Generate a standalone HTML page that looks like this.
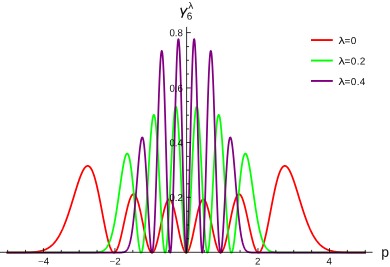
<!DOCTYPE html>
<html><head><meta charset="utf-8"><title>plot</title>
<style>html,body{margin:0;padding:0;background:#fff;}body{width:390px;height:267px;overflow:hidden;position:relative;font-family:"Liberation Sans",sans-serif;}</style></head>
<body>
<svg width="390" height="267" viewBox="0 0 390 267" style="position:absolute;left:0;top:0">
<path d="M7.48,252.62 L7.70,252.62 L7.93,252.62 L8.15,252.62 L8.37,252.62 L8.60,252.62 L8.82,252.62 L9.04,252.62 L9.27,252.62 L9.49,252.62 L9.72,252.62 L9.94,252.62 L10.16,252.61 L10.39,252.61 L10.61,252.61 L10.83,252.61 L11.06,252.61 L11.28,252.61 L11.50,252.61 L11.73,252.61 L11.95,252.61 L12.17,252.61 L12.40,252.61 L12.62,252.61 L12.84,252.61 L13.07,252.61 L13.29,252.61 L13.51,252.61 L13.74,252.61 L13.96,252.61 L14.19,252.61 L14.41,252.61 L14.63,252.61 L14.86,252.61 L15.08,252.60 L15.30,252.60 L15.53,252.60 L15.75,252.60 L15.97,252.60 L16.20,252.60 L16.42,252.60 L16.64,252.60 L16.87,252.60 L17.09,252.60 L17.31,252.60 L17.54,252.59 L17.76,252.59 L17.98,252.59 L18.21,252.59 L18.43,252.59 L18.66,252.59 L18.88,252.59 L19.10,252.59 L19.33,252.58 L19.55,252.58 L19.77,252.58 L20.00,252.58 L20.22,252.58 L20.44,252.57 L20.67,252.57 L20.89,252.57 L21.11,252.57 L21.34,252.57 L21.56,252.56 L21.78,252.56 L22.01,252.56 L22.23,252.56 L22.45,252.55 L22.68,252.55 L22.90,252.55 L23.12,252.54 L23.35,252.54 L23.57,252.54 L23.80,252.53 L24.02,252.53 L24.24,252.52 L24.47,252.52 L24.69,252.52 L24.91,252.51 L25.14,252.51 L25.36,252.50 L25.58,252.50 L25.81,252.49 L26.03,252.49 L26.25,252.48 L26.48,252.48 L26.70,252.47 L26.92,252.46 L27.15,252.46 L27.37,252.45 L27.59,252.44 L27.82,252.43 L28.04,252.43 L28.27,252.42 L28.49,252.41 L28.71,252.40 L28.94,252.39 L29.16,252.38 L29.38,252.37 L29.61,252.36 L29.83,252.35 L30.05,252.34 L30.28,252.33 L30.50,252.32 L30.72,252.31 L30.95,252.30 L31.17,252.28 L31.39,252.27 L31.62,252.26 L31.84,252.24 L32.06,252.23 L32.29,252.21 L32.51,252.20 L32.74,252.18 L32.96,252.16 L33.18,252.15 L33.41,252.13 L33.63,252.11 L33.85,252.09 L34.08,252.07 L34.30,252.05 L34.52,252.03 L34.75,252.00 L34.97,251.98 L35.19,251.96 L35.42,251.93 L35.64,251.90 L35.86,251.88 L36.09,251.85 L36.31,251.82 L36.53,251.79 L36.76,251.76 L36.98,251.73 L37.21,251.70 L37.43,251.67 L37.65,251.63 L37.88,251.60 L38.10,251.56 L38.32,251.52 L38.55,251.48 L38.77,251.44 L38.99,251.40 L39.22,251.36 L39.44,251.31 L39.66,251.27 L39.89,251.22 L40.11,251.17 L40.33,251.12 L40.56,251.07 L40.78,251.02 L41.00,250.96 L41.23,250.90 L41.45,250.84 L41.68,250.78 L41.90,250.72 L42.12,250.66 L42.35,250.59 L42.57,250.53 L42.79,250.46 L43.02,250.38 L43.24,250.31 L43.46,250.23 L43.69,250.16 L43.91,250.08 L44.13,249.99 L44.36,249.91 L44.58,249.82 L44.80,249.73 L45.03,249.64 L45.25,249.54 L45.48,249.45 L45.70,249.35 L45.92,249.24 L46.15,249.14 L46.37,249.03 L46.59,248.92 L46.82,248.80 L47.04,248.68 L47.26,248.56 L47.49,248.44 L47.71,248.31 L47.93,248.18 L48.16,248.05 L48.38,247.91 L48.60,247.77 L48.83,247.62 L49.05,247.48 L49.27,247.32 L49.50,247.17 L49.72,247.01 L49.95,246.84 L50.17,246.68 L50.39,246.51 L50.62,246.33 L50.84,246.15 L51.06,245.97 L51.29,245.78 L51.51,245.58 L51.73,245.39 L51.96,245.18 L52.18,244.98 L52.40,244.77 L52.63,244.55 L52.85,244.33 L53.07,244.10 L53.30,243.87 L53.52,243.63 L53.74,243.39 L53.97,243.15 L54.19,242.89 L54.42,242.64 L54.64,242.37 L54.86,242.11 L55.09,241.83 L55.31,241.55 L55.53,241.27 L55.76,240.98 L55.98,240.68 L56.20,240.38 L56.43,240.07 L56.65,239.75 L56.87,239.43 L57.10,239.10 L57.32,238.77 L57.54,238.43 L57.77,238.08 L57.99,237.73 L58.21,237.37 L58.44,237.01 L58.66,236.64 L58.89,236.26 L59.11,235.87 L59.33,235.48 L59.56,235.08 L59.78,234.67 L60.00,234.26 L60.23,233.84 L60.45,233.42 L60.67,232.98 L60.90,232.54 L61.12,232.10 L61.34,231.64 L61.57,231.18 L61.79,230.71 L62.01,230.24 L62.24,229.76 L62.46,229.27 L62.68,228.77 L62.91,228.27 L63.13,227.76 L63.36,227.24 L63.58,226.72 L63.80,226.19 L64.03,225.65 L64.25,225.10 L64.47,224.55 L64.70,223.99 L64.92,223.43 L65.14,222.86 L65.37,222.28 L65.59,221.69 L65.81,221.10 L66.04,220.50 L66.26,219.90 L66.48,219.29 L66.71,218.67 L66.93,218.05 L67.15,217.42 L67.38,216.78 L67.60,216.14 L67.83,215.49 L68.05,214.84 L68.27,214.18 L68.50,213.52 L68.72,212.85 L68.94,212.18 L69.17,211.50 L69.39,210.82 L69.61,210.13 L69.84,209.44 L70.06,208.74 L70.28,208.04 L70.51,207.33 L70.73,206.63 L70.95,205.91 L71.18,205.20 L71.40,204.48 L71.62,203.76 L71.85,203.04 L72.07,202.31 L72.30,201.59 L72.52,200.86 L72.74,200.12 L72.97,199.39 L73.19,198.66 L73.41,197.93 L73.64,197.19 L73.86,196.46 L74.08,195.72 L74.31,194.99 L74.53,194.25 L74.75,193.52 L74.98,192.79 L75.20,192.06 L75.42,191.33 L75.65,190.61 L75.87,189.89 L76.09,189.17 L76.32,188.45 L76.54,187.74 L76.77,187.03 L76.99,186.33 L77.21,185.63 L77.44,184.94 L77.66,184.25 L77.88,183.57 L78.11,182.90 L78.33,182.23 L78.55,181.57 L78.78,180.92 L79.00,180.28 L79.22,179.64 L79.45,179.01 L79.67,178.40 L79.89,177.79 L80.12,177.19 L80.34,176.60 L80.56,176.03 L80.79,175.46 L81.01,174.91 L81.24,174.37 L81.46,173.84 L81.68,173.33 L81.91,172.83 L82.13,172.34 L82.35,171.87 L82.58,171.41 L82.80,170.97 L83.02,170.54 L83.25,170.13 L83.47,169.74 L83.69,169.36 L83.92,169.00 L84.14,168.66 L84.36,168.34 L84.59,168.03 L84.81,167.74 L85.03,167.48 L85.26,167.23 L85.48,167.00 L85.71,166.79 L85.93,166.60 L86.15,166.44 L86.38,166.29 L86.60,166.17 L86.82,166.06 L87.05,165.98 L87.27,165.93 L87.49,165.89 L87.72,165.88 L87.94,165.89 L88.16,165.92 L88.39,165.98 L88.61,166.06 L88.83,166.17 L89.06,166.30 L89.28,166.45 L89.50,166.63 L89.73,166.83 L89.95,167.06 L90.18,167.31 L90.40,167.59 L90.62,167.89 L90.85,168.22 L91.07,168.57 L91.29,168.94 L91.52,169.34 L91.74,169.77 L91.96,170.22 L92.19,170.70 L92.41,171.20 L92.63,171.72 L92.86,172.27 L93.08,172.85 L93.30,173.44 L93.53,174.07 L93.75,174.71 L93.97,175.38 L94.20,176.07 L94.42,176.79 L94.65,177.52 L94.87,178.28 L95.09,179.07 L95.32,179.87 L95.54,180.69 L95.76,181.54 L95.99,182.40 L96.21,183.29 L96.43,184.20 L96.66,185.12 L96.88,186.06 L97.10,187.02 L97.33,188.00 L97.55,188.99 L97.77,190.01 L98.00,191.03 L98.22,192.07 L98.44,193.13 L98.67,194.20 L98.89,195.28 L99.12,196.37 L99.34,197.48 L99.56,198.60 L99.79,199.72 L100.01,200.86 L100.23,202.00 L100.46,203.15 L100.68,204.31 L100.90,205.47 L101.13,206.64 L101.35,207.82 L101.57,208.99 L101.80,210.17 L102.02,211.35 L102.24,212.54 L102.47,213.72 L102.69,214.90 L102.91,216.07 L103.14,217.25 L103.36,218.42 L103.59,219.59 L103.81,220.75 L104.03,221.90 L104.26,223.04 L104.48,224.18 L104.70,225.31 L104.93,226.42 L105.15,227.53 L105.37,228.62 L105.60,229.70 L105.82,230.76 L106.04,231.81 L106.27,232.84 L106.49,233.86 L106.71,234.86 L106.94,235.83 L107.16,236.79 L107.38,237.73 L107.61,238.64 L107.83,239.54 L108.06,240.41 L108.28,241.25 L108.50,242.07 L108.73,242.87 L108.95,243.63 L109.17,244.38 L109.40,245.09 L109.62,245.77 L109.84,246.43 L110.07,247.05 L110.29,247.65 L110.51,248.21 L110.74,248.74 L110.96,249.24 L111.18,249.71 L111.41,250.14 L111.63,250.54 L111.85,250.90 L112.08,251.24 L112.30,251.53 L112.53,251.79 L112.75,252.02 L112.97,252.21 L113.20,252.36 L113.42,252.48 L113.64,252.56 L113.87,252.61 L114.09,252.62 L114.31,252.59 L114.54,252.53 L114.76,252.43 L114.98,252.30 L115.21,252.12 L115.43,251.92 L115.65,251.68 L115.88,251.40 L116.10,251.09 L116.32,250.74 L116.55,250.36 L116.77,249.94 L117.00,249.50 L117.22,249.02 L117.44,248.50 L117.67,247.96 L117.89,247.38 L118.11,246.78 L118.34,246.14 L118.56,245.48 L118.78,244.79 L119.01,244.07 L119.23,243.32 L119.45,242.55 L119.68,241.75 L119.90,240.93 L120.12,240.09 L120.35,239.23 L120.57,238.34 L120.79,237.44 L121.02,236.52 L121.24,235.58 L121.47,234.62 L121.69,233.65 L121.91,232.66 L122.14,231.67 L122.36,230.66 L122.58,229.64 L122.81,228.61 L123.03,227.58 L123.25,226.54 L123.48,225.49 L123.70,224.44 L123.92,223.39 L124.15,222.34 L124.37,221.29 L124.59,220.24 L124.82,219.19 L125.04,218.15 L125.26,217.12 L125.49,216.09 L125.71,215.07 L125.94,214.06 L126.16,213.06 L126.38,212.08 L126.61,211.11 L126.83,210.15 L127.05,209.22 L127.28,208.30 L127.50,207.40 L127.72,206.51 L127.95,205.66 L128.17,204.82 L128.39,204.01 L128.62,203.22 L128.84,202.46 L129.06,201.73 L129.29,201.03 L129.51,200.35 L129.73,199.71 L129.96,199.09 L130.18,198.51 L130.41,197.97 L130.63,197.45 L130.85,196.97 L131.08,196.53 L131.30,196.12 L131.52,195.75 L131.75,195.42 L131.97,195.13 L132.19,194.87 L132.42,194.65 L132.64,194.47 L132.86,194.33 L133.09,194.23 L133.31,194.17 L133.53,194.15 L133.76,194.17 L133.98,194.24 L134.20,194.34 L134.43,194.48 L134.65,194.66 L134.88,194.88 L135.10,195.15 L135.32,195.45 L135.55,195.79 L135.77,196.17 L135.99,196.59 L136.22,197.04 L136.44,197.53 L136.66,198.06 L136.89,198.63 L137.11,199.23 L137.33,199.86 L137.56,200.53 L137.78,201.23 L138.00,201.97 L138.23,202.73 L138.45,203.52 L138.67,204.34 L138.90,205.19 L139.12,206.07 L139.34,206.97 L139.57,207.90 L139.79,208.85 L140.02,209.81 L140.24,210.80 L140.46,211.81 L140.69,212.84 L140.91,213.88 L141.13,214.93 L141.36,216.00 L141.58,217.08 L141.80,218.17 L142.03,219.27 L142.25,220.37 L142.47,221.48 L142.70,222.59 L142.92,223.70 L143.14,224.82 L143.37,225.93 L143.59,227.04 L143.81,228.14 L144.04,229.24 L144.26,230.33 L144.49,231.41 L144.71,232.48 L144.93,233.53 L145.16,234.57 L145.38,235.60 L145.60,236.61 L145.83,237.60 L146.05,238.57 L146.27,239.51 L146.50,240.44 L146.72,241.33 L146.94,242.21 L147.17,243.05 L147.39,243.87 L147.61,244.65 L147.84,245.41 L148.06,246.13 L148.28,246.82 L148.51,247.48 L148.73,248.10 L148.96,248.68 L149.18,249.22 L149.40,249.73 L149.63,250.20 L149.85,250.63 L150.07,251.02 L150.30,251.37 L150.52,251.67 L150.74,251.93 L150.97,252.16 L151.19,252.33 L151.41,252.47 L151.64,252.56 L151.86,252.61 L152.08,252.62 L152.31,252.58 L152.53,252.50 L152.75,252.37 L152.98,252.20 L153.20,251.99 L153.43,251.74 L153.65,251.44 L153.87,251.11 L154.10,250.73 L154.32,250.31 L154.54,249.85 L154.77,249.35 L154.99,248.82 L155.21,248.24 L155.44,247.63 L155.66,246.99 L155.88,246.31 L156.11,245.59 L156.33,244.85 L156.55,244.07 L156.78,243.26 L157.00,242.43 L157.22,241.56 L157.45,240.68 L157.67,239.76 L157.90,238.83 L158.12,237.87 L158.34,236.89 L158.57,235.90 L158.79,234.89 L159.01,233.86 L159.24,232.82 L159.46,231.77 L159.68,230.71 L159.91,229.64 L160.13,228.56 L160.35,227.48 L160.58,226.40 L160.80,225.32 L161.02,224.24 L161.25,223.16 L161.47,222.08 L161.69,221.01 L161.92,219.95 L162.14,218.90 L162.37,217.86 L162.59,216.83 L162.81,215.82 L163.04,214.83 L163.26,213.85 L163.48,212.89 L163.71,211.96 L163.93,211.05 L164.15,210.16 L164.38,209.30 L164.60,208.46 L164.82,207.66 L165.05,206.89 L165.27,206.14 L165.49,205.44 L165.72,204.76 L165.94,204.12 L166.16,203.52 L166.39,202.95 L166.61,202.43 L166.84,201.94 L167.06,201.49 L167.28,201.08 L167.51,200.72 L167.73,200.40 L167.95,200.12 L168.18,199.88 L168.40,199.69 L168.62,199.54 L168.85,199.44 L169.07,199.38 L169.29,199.37 L169.52,199.40 L169.74,199.47 L169.96,199.59 L170.19,199.76 L170.41,199.97 L170.63,200.22 L170.86,200.51 L171.08,200.85 L171.31,201.24 L171.53,201.66 L171.75,202.13 L171.98,202.63 L172.20,203.18 L172.42,203.76 L172.65,204.38 L172.87,205.04 L173.09,205.73 L173.32,206.46 L173.54,207.22 L173.76,208.02 L173.99,208.84 L174.21,209.69 L174.43,210.57 L174.66,211.48 L174.88,212.41 L175.10,213.37 L175.33,214.34 L175.55,215.34 L175.78,216.35 L176.00,217.39 L176.22,218.43 L176.45,219.49 L176.67,220.56 L176.89,221.64 L177.12,222.73 L177.34,223.82 L177.56,224.92 L177.79,226.01 L178.01,227.11 L178.23,228.21 L178.46,229.30 L178.68,230.39 L178.90,231.47 L179.13,232.54 L179.35,233.60 L179.57,234.65 L179.80,235.68 L180.02,236.69 L180.25,237.69 L180.47,238.67 L180.69,239.63 L180.92,240.56 L181.14,241.47 L181.36,242.35 L181.59,243.20 L181.81,244.03 L182.03,244.82 L182.26,245.58 L182.48,246.31 L182.70,247.01 L182.93,247.66 L183.15,248.28 L183.37,248.87 L183.60,249.41 L183.82,249.91 L184.04,250.38 L184.27,250.80 L184.49,251.18 L184.72,251.51 L184.94,251.81 L185.16,252.05 L185.39,252.26 L185.61,252.42 L185.83,252.53 L186.06,252.60 L186.28,252.62 L186.50,252.60 L186.73,252.53 L186.95,252.42 L187.17,252.26 L187.40,252.05 L187.62,251.81 L187.84,251.51 L188.07,251.18 L188.29,250.80 L188.52,250.38 L188.74,249.91 L188.96,249.41 L189.19,248.87 L189.41,248.28 L189.63,247.66 L189.86,247.01 L190.08,246.31 L190.30,245.58 L190.53,244.82 L190.75,244.03 L190.97,243.20 L191.20,242.35 L191.42,241.47 L191.64,240.56 L191.87,239.63 L192.09,238.67 L192.31,237.69 L192.54,236.69 L192.76,235.68 L192.99,234.65 L193.21,233.60 L193.43,232.54 L193.66,231.47 L193.88,230.39 L194.10,229.30 L194.33,228.21 L194.55,227.11 L194.77,226.01 L195.00,224.92 L195.22,223.82 L195.44,222.73 L195.67,221.64 L195.89,220.56 L196.11,219.49 L196.34,218.43 L196.56,217.39 L196.78,216.35 L197.01,215.34 L197.23,214.34 L197.46,213.37 L197.68,212.41 L197.90,211.48 L198.13,210.57 L198.35,209.69 L198.57,208.84 L198.80,208.02 L199.02,207.22 L199.24,206.46 L199.47,205.73 L199.69,205.04 L199.91,204.38 L200.14,203.76 L200.36,203.18 L200.58,202.63 L200.81,202.13 L201.03,201.66 L201.25,201.24 L201.48,200.85 L201.70,200.51 L201.93,200.22 L202.15,199.97 L202.37,199.76 L202.60,199.59 L202.82,199.47 L203.04,199.40 L203.27,199.37 L203.49,199.38 L203.71,199.44 L203.94,199.54 L204.16,199.69 L204.38,199.88 L204.61,200.12 L204.83,200.40 L205.05,200.72 L205.28,201.08 L205.50,201.49 L205.72,201.94 L205.95,202.43 L206.17,202.95 L206.40,203.52 L206.62,204.12 L206.84,204.76 L207.07,205.44 L207.29,206.14 L207.51,206.89 L207.74,207.66 L207.96,208.46 L208.18,209.30 L208.41,210.16 L208.63,211.05 L208.85,211.96 L209.08,212.89 L209.30,213.85 L209.52,214.83 L209.75,215.82 L209.97,216.83 L210.19,217.86 L210.42,218.90 L210.64,219.95 L210.87,221.01 L211.09,222.08 L211.31,223.16 L211.54,224.24 L211.76,225.32 L211.98,226.40 L212.21,227.48 L212.43,228.56 L212.65,229.64 L212.88,230.71 L213.10,231.77 L213.32,232.82 L213.55,233.86 L213.77,234.89 L213.99,235.90 L214.22,236.89 L214.44,237.87 L214.66,238.83 L214.89,239.76 L215.11,240.68 L215.34,241.56 L215.56,242.43 L215.78,243.26 L216.01,244.07 L216.23,244.85 L216.45,245.59 L216.68,246.31 L216.90,246.99 L217.12,247.63 L217.35,248.24 L217.57,248.82 L217.79,249.35 L218.02,249.85 L218.24,250.31 L218.46,250.73 L218.69,251.11 L218.91,251.44 L219.13,251.74 L219.36,251.99 L219.58,252.20 L219.81,252.37 L220.03,252.50 L220.25,252.58 L220.48,252.62 L220.70,252.61 L220.92,252.56 L221.15,252.47 L221.37,252.33 L221.59,252.16 L221.82,251.93 L222.04,251.67 L222.26,251.37 L222.49,251.02 L222.71,250.63 L222.93,250.20 L223.16,249.73 L223.38,249.22 L223.60,248.68 L223.83,248.10 L224.05,247.48 L224.28,246.82 L224.50,246.13 L224.72,245.41 L224.95,244.65 L225.17,243.87 L225.39,243.05 L225.62,242.21 L225.84,241.33 L226.06,240.44 L226.29,239.51 L226.51,238.57 L226.73,237.60 L226.96,236.61 L227.18,235.60 L227.40,234.57 L227.63,233.53 L227.85,232.48 L228.07,231.41 L228.30,230.33 L228.52,229.24 L228.75,228.14 L228.97,227.04 L229.19,225.93 L229.42,224.82 L229.64,223.70 L229.86,222.59 L230.09,221.48 L230.31,220.37 L230.53,219.27 L230.76,218.17 L230.98,217.08 L231.20,216.00 L231.43,214.93 L231.65,213.88 L231.87,212.84 L232.10,211.81 L232.32,210.80 L232.54,209.81 L232.77,208.85 L232.99,207.90 L233.22,206.97 L233.44,206.07 L233.66,205.19 L233.89,204.34 L234.11,203.52 L234.33,202.73 L234.56,201.97 L234.78,201.23 L235.00,200.53 L235.23,199.86 L235.45,199.23 L235.67,198.63 L235.90,198.06 L236.12,197.53 L236.34,197.04 L236.57,196.59 L236.79,196.17 L237.01,195.79 L237.24,195.45 L237.46,195.15 L237.69,194.88 L237.91,194.66 L238.13,194.48 L238.36,194.34 L238.58,194.24 L238.80,194.17 L239.03,194.15 L239.25,194.17 L239.47,194.23 L239.70,194.33 L239.92,194.47 L240.14,194.65 L240.37,194.87 L240.59,195.13 L240.81,195.42 L241.04,195.75 L241.26,196.12 L241.48,196.53 L241.71,196.97 L241.93,197.45 L242.16,197.97 L242.38,198.51 L242.60,199.09 L242.83,199.71 L243.05,200.35 L243.27,201.03 L243.50,201.73 L243.72,202.46 L243.94,203.22 L244.17,204.01 L244.39,204.82 L244.61,205.66 L244.84,206.51 L245.06,207.40 L245.28,208.30 L245.51,209.22 L245.73,210.15 L245.95,211.11 L246.18,212.08 L246.40,213.06 L246.62,214.06 L246.85,215.07 L247.07,216.09 L247.30,217.12 L247.52,218.15 L247.74,219.19 L247.97,220.24 L248.19,221.29 L248.41,222.34 L248.64,223.39 L248.86,224.44 L249.08,225.49 L249.31,226.54 L249.53,227.58 L249.75,228.61 L249.98,229.64 L250.20,230.66 L250.42,231.67 L250.65,232.66 L250.87,233.65 L251.09,234.62 L251.32,235.58 L251.54,236.52 L251.77,237.44 L251.99,238.34 L252.21,239.23 L252.44,240.09 L252.66,240.93 L252.88,241.75 L253.11,242.55 L253.33,243.32 L253.55,244.07 L253.78,244.79 L254.00,245.48 L254.22,246.14 L254.45,246.78 L254.67,247.38 L254.89,247.96 L255.12,248.50 L255.34,249.02 L255.56,249.50 L255.79,249.94 L256.01,250.36 L256.24,250.74 L256.46,251.09 L256.68,251.40 L256.91,251.68 L257.13,251.92 L257.35,252.12 L257.58,252.30 L257.80,252.43 L258.02,252.53 L258.25,252.59 L258.47,252.62 L258.69,252.61 L258.92,252.56 L259.14,252.48 L259.36,252.36 L259.59,252.21 L259.81,252.02 L260.03,251.79 L260.26,251.53 L260.48,251.24 L260.71,250.90 L260.93,250.54 L261.15,250.14 L261.38,249.71 L261.60,249.24 L261.82,248.74 L262.05,248.21 L262.27,247.65 L262.49,247.05 L262.72,246.43 L262.94,245.77 L263.16,245.09 L263.39,244.38 L263.61,243.63 L263.83,242.87 L264.06,242.07 L264.28,241.25 L264.50,240.41 L264.73,239.54 L264.95,238.64 L265.18,237.73 L265.40,236.79 L265.62,235.83 L265.85,234.86 L266.07,233.86 L266.29,232.84 L266.52,231.81 L266.74,230.76 L266.96,229.70 L267.19,228.62 L267.41,227.53 L267.63,226.42 L267.86,225.31 L268.08,224.18 L268.30,223.04 L268.53,221.90 L268.75,220.75 L268.98,219.59 L269.20,218.42 L269.42,217.25 L269.65,216.07 L269.87,214.90 L270.09,213.72 L270.32,212.54 L270.54,211.35 L270.76,210.17 L270.99,208.99 L271.21,207.82 L271.43,206.64 L271.66,205.47 L271.88,204.31 L272.10,203.15 L272.33,202.00 L272.55,200.86 L272.77,199.72 L273.00,198.60 L273.22,197.48 L273.44,196.37 L273.67,195.28 L273.89,194.20 L274.12,193.13 L274.34,192.07 L274.56,191.03 L274.79,190.01 L275.01,188.99 L275.23,188.00 L275.46,187.02 L275.68,186.06 L275.90,185.12 L276.13,184.20 L276.35,183.29 L276.57,182.40 L276.80,181.54 L277.02,180.69 L277.24,179.87 L277.47,179.07 L277.69,178.28 L277.91,177.52 L278.14,176.79 L278.36,176.07 L278.59,175.38 L278.81,174.71 L279.03,174.07 L279.26,173.44 L279.48,172.85 L279.70,172.27 L279.93,171.72 L280.15,171.20 L280.37,170.70 L280.60,170.22 L280.82,169.77 L281.04,169.34 L281.27,168.94 L281.49,168.57 L281.71,168.22 L281.94,167.89 L282.16,167.59 L282.38,167.31 L282.61,167.06 L282.83,166.83 L283.06,166.63 L283.28,166.45 L283.50,166.30 L283.73,166.17 L283.95,166.06 L284.17,165.98 L284.40,165.92 L284.62,165.89 L284.84,165.88 L285.07,165.89 L285.29,165.93 L285.51,165.98 L285.74,166.06 L285.96,166.17 L286.18,166.29 L286.41,166.44 L286.63,166.60 L286.86,166.79 L287.08,167.00 L287.30,167.23 L287.53,167.48 L287.75,167.74 L287.97,168.03 L288.20,168.34 L288.42,168.66 L288.64,169.00 L288.87,169.36 L289.09,169.74 L289.31,170.13 L289.54,170.54 L289.76,170.97 L289.98,171.41 L290.21,171.87 L290.43,172.34 L290.65,172.83 L290.88,173.33 L291.10,173.84 L291.32,174.37 L291.55,174.91 L291.77,175.46 L292.00,176.03 L292.22,176.60 L292.44,177.19 L292.67,177.79 L292.89,178.40 L293.11,179.01 L293.34,179.64 L293.56,180.28 L293.78,180.92 L294.01,181.57 L294.23,182.23 L294.45,182.90 L294.68,183.57 L294.90,184.25 L295.12,184.94 L295.35,185.63 L295.57,186.33 L295.80,187.03 L296.02,187.74 L296.24,188.45 L296.47,189.17 L296.69,189.89 L296.91,190.61 L297.14,191.33 L297.36,192.06 L297.58,192.79 L297.81,193.52 L298.03,194.25 L298.25,194.99 L298.48,195.72 L298.70,196.46 L298.92,197.19 L299.15,197.93 L299.37,198.66 L299.59,199.39 L299.82,200.12 L300.04,200.86 L300.26,201.59 L300.49,202.31 L300.71,203.04 L300.94,203.76 L301.16,204.48 L301.38,205.20 L301.61,205.91 L301.83,206.63 L302.05,207.33 L302.28,208.04 L302.50,208.74 L302.72,209.44 L302.95,210.13 L303.17,210.82 L303.39,211.50 L303.62,212.18 L303.84,212.85 L304.06,213.52 L304.29,214.18 L304.51,214.84 L304.74,215.49 L304.96,216.14 L305.18,216.78 L305.41,217.42 L305.63,218.05 L305.85,218.67 L306.08,219.29 L306.30,219.90 L306.52,220.50 L306.75,221.10 L306.97,221.69 L307.19,222.28 L307.42,222.86 L307.64,223.43 L307.86,223.99 L308.09,224.55 L308.31,225.10 L308.53,225.65 L308.76,226.19 L308.98,226.72 L309.20,227.24 L309.43,227.76 L309.65,228.27 L309.88,228.77 L310.10,229.27 L310.32,229.76 L310.55,230.24 L310.77,230.71 L310.99,231.18 L311.22,231.64 L311.44,232.10 L311.66,232.54 L311.89,232.98 L312.11,233.42 L312.33,233.84 L312.56,234.26 L312.78,234.67 L313.00,235.08 L313.23,235.48 L313.45,235.87 L313.68,236.26 L313.90,236.64 L314.12,237.01 L314.35,237.37 L314.57,237.73 L314.79,238.08 L315.02,238.43 L315.24,238.77 L315.46,239.10 L315.69,239.43 L315.91,239.75 L316.13,240.07 L316.36,240.38 L316.58,240.68 L316.80,240.98 L317.03,241.27 L317.25,241.55 L317.47,241.83 L317.70,242.11 L317.92,242.37 L318.14,242.64 L318.37,242.89 L318.59,243.15 L318.82,243.39 L319.04,243.63 L319.26,243.87 L319.49,244.10 L319.71,244.33 L319.93,244.55 L320.16,244.77 L320.38,244.98 L320.60,245.18 L320.83,245.39 L321.05,245.58 L321.27,245.78 L321.50,245.97 L321.72,246.15 L321.94,246.33 L322.17,246.51 L322.39,246.68 L322.62,246.84 L322.84,247.01 L323.06,247.17 L323.29,247.32 L323.51,247.48 L323.73,247.62 L323.96,247.77 L324.18,247.91 L324.40,248.05 L324.63,248.18 L324.85,248.31 L325.07,248.44 L325.30,248.56 L325.52,248.68 L325.74,248.80 L325.97,248.92 L326.19,249.03 L326.41,249.14 L326.64,249.24 L326.86,249.35 L327.08,249.45 L327.31,249.54 L327.53,249.64 L327.76,249.73 L327.98,249.82 L328.20,249.91 L328.43,249.99 L328.65,250.08 L328.87,250.16 L329.10,250.23 L329.32,250.31 L329.54,250.38 L329.77,250.46 L329.99,250.53 L330.21,250.59 L330.44,250.66 L330.66,250.72 L330.88,250.78 L331.11,250.84 L331.33,250.90 L331.56,250.96 L331.78,251.02 L332.00,251.07 L332.23,251.12 L332.45,251.17 L332.67,251.22 L332.90,251.27 L333.12,251.31 L333.34,251.36 L333.57,251.40 L333.79,251.44 L334.01,251.48 L334.24,251.52 L334.46,251.56 L334.68,251.60 L334.91,251.63 L335.13,251.67 L335.35,251.70 L335.58,251.73 L335.80,251.76 L336.02,251.79 L336.25,251.82 L336.47,251.85 L336.70,251.88 L336.92,251.90 L337.14,251.93 L337.37,251.96 L337.59,251.98 L337.81,252.00 L338.04,252.03 L338.26,252.05 L338.48,252.07 L338.71,252.09 L338.93,252.11 L339.15,252.13 L339.38,252.15 L339.60,252.16 L339.82,252.18 L340.05,252.20 L340.27,252.21 L340.50,252.23 L340.72,252.24 L340.94,252.26 L341.17,252.27 L341.39,252.28 L341.61,252.30 L341.84,252.31 L342.06,252.32 L342.28,252.33 L342.51,252.34 L342.73,252.35 L342.95,252.36 L343.18,252.37 L343.40,252.38 L343.62,252.39 L343.85,252.40 L344.07,252.41 L344.29,252.42 L344.52,252.43 L344.74,252.43 L344.97,252.44 L345.19,252.45 L345.41,252.46 L345.64,252.46 L345.86,252.47 L346.08,252.48 L346.31,252.48 L346.53,252.49 L346.75,252.49 L346.98,252.50 L347.20,252.50 L347.42,252.51 L347.65,252.51 L347.87,252.52 L348.09,252.52 L348.32,252.52 L348.54,252.53 L348.76,252.53 L348.99,252.54 L349.21,252.54 L349.44,252.54 L349.66,252.55 L349.88,252.55 L350.11,252.55 L350.33,252.56 L350.55,252.56 L350.78,252.56 L351.00,252.56 L351.22,252.57 L351.45,252.57 L351.67,252.57 L351.89,252.57 L352.12,252.57 L352.34,252.58 L352.56,252.58 L352.79,252.58 L353.01,252.58 L353.23,252.58 L353.46,252.59 L353.68,252.59 L353.90,252.59 L354.13,252.59 L354.35,252.59 L354.58,252.59 L354.80,252.59 L355.02,252.59 L355.25,252.60 L355.47,252.60 L355.69,252.60 L355.92,252.60 L356.14,252.60 L356.36,252.60 L356.59,252.60 L356.81,252.60 L357.03,252.60 L357.26,252.60 L357.48,252.60 L357.70,252.61 L357.93,252.61 L358.15,252.61 L358.38,252.61 L358.60,252.61 L358.82,252.61 L359.05,252.61 L359.27,252.61 L359.49,252.61 L359.72,252.61 L359.94,252.61 L360.16,252.61 L360.39,252.61 L360.61,252.61 L360.83,252.61 L361.06,252.61 L361.28,252.61 L361.50,252.61 L361.73,252.61 L361.95,252.61 L362.17,252.61 L362.40,252.61 L362.62,252.62 L362.85,252.62 L363.07,252.62 L363.29,252.62 L363.52,252.62 L363.74,252.62 L363.96,252.62 L364.19,252.62 L364.41,252.62 L364.63,252.62 L364.86,252.62 L365.08,252.62" stroke="#ff0000" stroke-width="1.75" fill="none" stroke-linejoin="round" stroke-linecap="square"/>
<path d="M7.48,252.62 L7.70,252.62 L7.93,252.62 L8.15,252.62 L8.37,252.62 L8.60,252.62 L8.82,252.62 L9.04,252.62 L9.27,252.62 L9.49,252.62 L9.72,252.62 L9.94,252.62 L10.16,252.62 L10.39,252.62 L10.61,252.62 L10.83,252.62 L11.06,252.62 L11.28,252.62 L11.50,252.62 L11.73,252.62 L11.95,252.62 L12.17,252.62 L12.40,252.62 L12.62,252.62 L12.84,252.62 L13.07,252.62 L13.29,252.62 L13.51,252.62 L13.74,252.62 L13.96,252.62 L14.19,252.62 L14.41,252.62 L14.63,252.62 L14.86,252.62 L15.08,252.62 L15.30,252.62 L15.53,252.62 L15.75,252.62 L15.97,252.62 L16.20,252.62 L16.42,252.62 L16.64,252.62 L16.87,252.62 L17.09,252.62 L17.31,252.62 L17.54,252.62 L17.76,252.62 L17.98,252.62 L18.21,252.62 L18.43,252.62 L18.66,252.62 L18.88,252.62 L19.10,252.62 L19.33,252.62 L19.55,252.62 L19.77,252.62 L20.00,252.62 L20.22,252.62 L20.44,252.62 L20.67,252.62 L20.89,252.62 L21.11,252.62 L21.34,252.62 L21.56,252.62 L21.78,252.62 L22.01,252.62 L22.23,252.62 L22.45,252.62 L22.68,252.62 L22.90,252.62 L23.12,252.62 L23.35,252.62 L23.57,252.62 L23.80,252.62 L24.02,252.62 L24.24,252.62 L24.47,252.62 L24.69,252.62 L24.91,252.62 L25.14,252.62 L25.36,252.62 L25.58,252.62 L25.81,252.62 L26.03,252.62 L26.25,252.62 L26.48,252.62 L26.70,252.62 L26.92,252.62 L27.15,252.62 L27.37,252.62 L27.59,252.62 L27.82,252.62 L28.04,252.62 L28.27,252.62 L28.49,252.62 L28.71,252.62 L28.94,252.62 L29.16,252.62 L29.38,252.62 L29.61,252.62 L29.83,252.62 L30.05,252.62 L30.28,252.62 L30.50,252.62 L30.72,252.62 L30.95,252.62 L31.17,252.62 L31.39,252.62 L31.62,252.62 L31.84,252.62 L32.06,252.62 L32.29,252.62 L32.51,252.62 L32.74,252.62 L32.96,252.62 L33.18,252.62 L33.41,252.62 L33.63,252.62 L33.85,252.62 L34.08,252.62 L34.30,252.62 L34.52,252.62 L34.75,252.62 L34.97,252.62 L35.19,252.62 L35.42,252.62 L35.64,252.62 L35.86,252.62 L36.09,252.62 L36.31,252.62 L36.53,252.62 L36.76,252.62 L36.98,252.62 L37.21,252.62 L37.43,252.62 L37.65,252.62 L37.88,252.62 L38.10,252.62 L38.32,252.62 L38.55,252.62 L38.77,252.62 L38.99,252.62 L39.22,252.62 L39.44,252.62 L39.66,252.62 L39.89,252.62 L40.11,252.62 L40.33,252.62 L40.56,252.62 L40.78,252.62 L41.00,252.62 L41.23,252.62 L41.45,252.62 L41.68,252.62 L41.90,252.62 L42.12,252.62 L42.35,252.62 L42.57,252.62 L42.79,252.62 L43.02,252.62 L43.24,252.62 L43.46,252.62 L43.69,252.62 L43.91,252.62 L44.13,252.62 L44.36,252.62 L44.58,252.62 L44.80,252.62 L45.03,252.62 L45.25,252.62 L45.48,252.62 L45.70,252.62 L45.92,252.62 L46.15,252.62 L46.37,252.62 L46.59,252.62 L46.82,252.62 L47.04,252.62 L47.26,252.62 L47.49,252.62 L47.71,252.62 L47.93,252.62 L48.16,252.62 L48.38,252.62 L48.60,252.62 L48.83,252.62 L49.05,252.62 L49.27,252.62 L49.50,252.62 L49.72,252.62 L49.95,252.62 L50.17,252.62 L50.39,252.62 L50.62,252.62 L50.84,252.62 L51.06,252.62 L51.29,252.62 L51.51,252.62 L51.73,252.62 L51.96,252.62 L52.18,252.62 L52.40,252.62 L52.63,252.62 L52.85,252.62 L53.07,252.62 L53.30,252.62 L53.52,252.62 L53.74,252.62 L53.97,252.62 L54.19,252.62 L54.42,252.62 L54.64,252.62 L54.86,252.62 L55.09,252.62 L55.31,252.62 L55.53,252.62 L55.76,252.62 L55.98,252.62 L56.20,252.62 L56.43,252.62 L56.65,252.62 L56.87,252.62 L57.10,252.62 L57.32,252.62 L57.54,252.62 L57.77,252.62 L57.99,252.62 L58.21,252.62 L58.44,252.62 L58.66,252.62 L58.89,252.62 L59.11,252.62 L59.33,252.62 L59.56,252.62 L59.78,252.62 L60.00,252.62 L60.23,252.62 L60.45,252.62 L60.67,252.62 L60.90,252.62 L61.12,252.62 L61.34,252.62 L61.57,252.62 L61.79,252.62 L62.01,252.62 L62.24,252.62 L62.46,252.62 L62.68,252.62 L62.91,252.62 L63.13,252.62 L63.36,252.62 L63.58,252.62 L63.80,252.62 L64.03,252.62 L64.25,252.62 L64.47,252.62 L64.70,252.62 L64.92,252.62 L65.14,252.62 L65.37,252.62 L65.59,252.62 L65.81,252.62 L66.04,252.62 L66.26,252.62 L66.48,252.62 L66.71,252.62 L66.93,252.62 L67.15,252.62 L67.38,252.62 L67.60,252.62 L67.83,252.62 L68.05,252.62 L68.27,252.62 L68.50,252.62 L68.72,252.62 L68.94,252.62 L69.17,252.62 L69.39,252.62 L69.61,252.62 L69.84,252.62 L70.06,252.62 L70.28,252.62 L70.51,252.62 L70.73,252.62 L70.95,252.62 L71.18,252.62 L71.40,252.62 L71.62,252.62 L71.85,252.62 L72.07,252.62 L72.30,252.62 L72.52,252.62 L72.74,252.62 L72.97,252.62 L73.19,252.62 L73.41,252.62 L73.64,252.62 L73.86,252.62 L74.08,252.62 L74.31,252.62 L74.53,252.62 L74.75,252.62 L74.98,252.62 L75.20,252.62 L75.42,252.62 L75.65,252.62 L75.87,252.62 L76.09,252.62 L76.32,252.62 L76.54,252.62 L76.77,252.62 L76.99,252.62 L77.21,252.62 L77.44,252.62 L77.66,252.62 L77.88,252.62 L78.11,252.62 L78.33,252.62 L78.55,252.62 L78.78,252.62 L79.00,252.62 L79.22,252.62 L79.45,252.62 L79.67,252.62 L79.89,252.62 L80.12,252.62 L80.34,252.62 L80.56,252.62 L80.79,252.62 L81.01,252.62 L81.24,252.62 L81.46,252.62 L81.68,252.62 L81.91,252.62 L82.13,252.62 L82.35,252.62 L82.58,252.62 L82.80,252.62 L83.02,252.62 L83.25,252.62 L83.47,252.62 L83.69,252.62 L83.92,252.62 L84.14,252.62 L84.36,252.62 L84.59,252.62 L84.81,252.62 L85.03,252.62 L85.26,252.62 L85.48,252.62 L85.71,252.62 L85.93,252.62 L86.15,252.62 L86.38,252.62 L86.60,252.62 L86.82,252.62 L87.05,252.62 L87.27,252.62 L87.49,252.62 L87.72,252.62 L87.94,252.62 L88.16,252.62 L88.39,252.62 L88.61,252.62 L88.83,252.62 L89.06,252.61 L89.28,252.61 L89.50,252.61 L89.73,252.61 L89.95,252.61 L90.18,252.61 L90.40,252.61 L90.62,252.61 L90.85,252.61 L91.07,252.61 L91.29,252.60 L91.52,252.60 L91.74,252.60 L91.96,252.60 L92.19,252.60 L92.41,252.59 L92.63,252.59 L92.86,252.59 L93.08,252.58 L93.30,252.58 L93.53,252.57 L93.75,252.57 L93.97,252.56 L94.20,252.56 L94.42,252.55 L94.65,252.54 L94.87,252.54 L95.09,252.53 L95.32,252.52 L95.54,252.51 L95.76,252.50 L95.99,252.49 L96.21,252.47 L96.43,252.46 L96.66,252.44 L96.88,252.43 L97.10,252.41 L97.33,252.39 L97.55,252.37 L97.77,252.34 L98.00,252.32 L98.22,252.29 L98.44,252.26 L98.67,252.23 L98.89,252.19 L99.12,252.16 L99.34,252.12 L99.56,252.07 L99.79,252.03 L100.01,251.98 L100.23,251.92 L100.46,251.87 L100.68,251.80 L100.90,251.74 L101.13,251.67 L101.35,251.59 L101.57,251.51 L101.80,251.43 L102.02,251.33 L102.24,251.23 L102.47,251.13 L102.69,251.02 L102.91,250.90 L103.14,250.77 L103.36,250.64 L103.59,250.49 L103.81,250.34 L104.03,250.18 L104.26,250.01 L104.48,249.83 L104.70,249.64 L104.93,249.43 L105.15,249.22 L105.37,248.99 L105.60,248.75 L105.82,248.50 L106.04,248.23 L106.27,247.95 L106.49,247.66 L106.71,247.35 L106.94,247.02 L107.16,246.68 L107.38,246.32 L107.61,245.94 L107.83,245.54 L108.06,245.13 L108.28,244.69 L108.50,244.24 L108.73,243.76 L108.95,243.26 L109.17,242.74 L109.40,242.20 L109.62,241.64 L109.84,241.05 L110.07,240.44 L110.29,239.80 L110.51,239.14 L110.74,238.45 L110.96,237.74 L111.18,237.00 L111.41,236.23 L111.63,235.44 L111.85,234.61 L112.08,233.76 L112.30,232.88 L112.53,231.98 L112.75,231.04 L112.97,230.08 L113.20,229.08 L113.42,228.06 L113.64,227.01 L113.87,225.92 L114.09,224.81 L114.31,223.67 L114.54,222.51 L114.76,221.31 L114.98,220.08 L115.21,218.83 L115.43,217.55 L115.65,216.25 L115.88,214.91 L116.10,213.56 L116.32,212.17 L116.55,210.77 L116.77,209.34 L117.00,207.89 L117.22,206.42 L117.44,204.94 L117.67,203.43 L117.89,201.91 L118.11,200.37 L118.34,198.82 L118.56,197.26 L118.78,195.69 L119.01,194.11 L119.23,192.53 L119.45,190.94 L119.68,189.35 L119.90,187.76 L120.12,186.17 L120.35,184.59 L120.57,183.02 L120.79,181.46 L121.02,179.91 L121.24,178.37 L121.47,176.86 L121.69,175.36 L121.91,173.90 L122.14,172.45 L122.36,171.04 L122.58,169.66 L122.81,168.32 L123.03,167.01 L123.25,165.75 L123.48,164.53 L123.70,163.36 L123.92,162.24 L124.15,161.18 L124.37,160.17 L124.59,159.23 L124.82,158.35 L125.04,157.53 L125.26,156.78 L125.49,156.11 L125.71,155.51 L125.94,154.98 L126.16,154.54 L126.38,154.17 L126.61,153.90 L126.83,153.70 L127.05,153.60 L127.28,153.59 L127.50,153.67 L127.72,153.84 L127.95,154.10 L128.17,154.46 L128.39,154.92 L128.62,155.48 L128.84,156.13 L129.06,156.88 L129.29,157.73 L129.51,158.68 L129.73,159.72 L129.96,160.87 L130.18,162.10 L130.41,163.43 L130.63,164.86 L130.85,166.37 L131.08,167.98 L131.30,169.67 L131.52,171.44 L131.75,173.30 L131.97,175.23 L132.19,177.24 L132.42,179.32 L132.64,181.46 L132.86,183.67 L133.09,185.93 L133.31,188.25 L133.53,190.61 L133.76,193.02 L133.98,195.46 L134.20,197.93 L134.43,200.43 L134.65,202.94 L134.88,205.47 L135.10,208.01 L135.32,210.54 L135.55,213.06 L135.77,215.57 L135.99,218.05 L136.22,220.51 L136.44,222.93 L136.66,225.30 L136.89,227.62 L137.11,229.88 L137.33,232.08 L137.56,234.20 L137.78,236.24 L138.00,238.19 L138.23,240.05 L138.45,241.80 L138.67,243.45 L138.90,244.97 L139.12,246.38 L139.34,247.66 L139.57,248.80 L139.79,249.80 L140.02,250.66 L140.24,251.37 L140.46,251.92 L140.69,252.32 L140.91,252.55 L141.13,252.62 L141.36,252.52 L141.58,252.25 L141.80,251.80 L142.03,251.18 L142.25,250.39 L142.47,249.42 L142.70,248.27 L142.92,246.95 L143.14,245.46 L143.37,243.80 L143.59,241.97 L143.81,239.97 L144.04,237.81 L144.26,235.49 L144.49,233.02 L144.71,230.40 L144.93,227.64 L145.16,224.74 L145.38,221.72 L145.60,218.58 L145.83,215.32 L146.05,211.96 L146.27,208.51 L146.50,204.97 L146.72,201.35 L146.94,197.67 L147.17,193.94 L147.39,190.16 L147.61,186.36 L147.84,182.53 L148.06,178.69 L148.28,174.86 L148.51,171.05 L148.73,167.26 L148.96,163.52 L149.18,159.83 L149.40,156.21 L149.63,152.66 L149.85,149.21 L150.07,145.86 L150.30,142.63 L150.52,139.52 L150.74,136.55 L150.97,133.73 L151.19,131.07 L151.41,128.58 L151.64,126.27 L151.86,124.15 L152.08,122.23 L152.31,120.52 L152.53,119.02 L152.75,117.74 L152.98,116.68 L153.20,115.86 L153.43,115.27 L153.65,114.93 L153.87,114.82 L154.10,114.96 L154.32,115.35 L154.54,115.98 L154.77,116.86 L154.99,117.98 L155.21,119.35 L155.44,120.95 L155.66,122.78 L155.88,124.84 L156.11,127.12 L156.33,129.62 L156.55,132.32 L156.78,135.22 L157.00,138.31 L157.22,141.57 L157.45,145.00 L157.67,148.58 L157.90,152.30 L158.12,156.15 L158.34,160.11 L158.57,164.17 L158.79,168.31 L159.01,172.52 L159.24,176.78 L159.46,181.07 L159.68,185.39 L159.91,189.70 L160.13,194.00 L160.35,198.26 L160.58,202.47 L160.80,206.62 L161.02,210.68 L161.25,214.64 L161.47,218.48 L161.69,222.19 L161.92,225.75 L162.14,229.14 L162.37,232.36 L162.59,235.38 L162.81,238.19 L163.04,240.78 L163.26,243.15 L163.48,245.27 L163.71,247.13 L163.93,248.74 L164.15,250.08 L164.38,251.14 L164.60,251.92 L164.82,252.41 L165.05,252.61 L165.27,252.52 L165.49,252.14 L165.72,251.46 L165.94,250.49 L166.16,249.23 L166.39,247.69 L166.61,245.86 L166.84,243.76 L167.06,241.40 L167.28,238.77 L167.51,235.90 L167.73,232.79 L167.95,229.45 L168.18,225.91 L168.40,222.16 L168.62,218.23 L168.85,214.14 L169.07,209.90 L169.29,205.52 L169.52,201.03 L169.74,196.44 L169.96,191.78 L170.19,187.06 L170.41,182.31 L170.63,177.53 L170.86,172.77 L171.08,168.02 L171.31,163.32 L171.53,158.69 L171.75,154.15 L171.98,149.71 L172.20,145.39 L172.42,141.23 L172.65,137.22 L172.87,133.40 L173.09,129.77 L173.32,126.36 L173.54,123.18 L173.76,120.24 L173.99,117.57 L174.21,115.16 L174.43,113.04 L174.66,111.20 L174.88,109.67 L175.10,108.45 L175.33,107.54 L175.55,106.95 L175.78,106.68 L176.00,106.74 L176.22,107.12 L176.45,107.83 L176.67,108.85 L176.89,110.19 L177.12,111.85 L177.34,113.80 L177.56,116.05 L177.79,118.59 L178.01,121.41 L178.23,124.49 L178.46,127.81 L178.68,131.37 L178.90,135.15 L179.13,139.14 L179.35,143.30 L179.57,147.64 L179.80,152.12 L180.02,156.72 L180.25,161.43 L180.47,166.23 L180.69,171.08 L180.92,175.98 L181.14,180.90 L181.36,185.81 L181.59,190.69 L181.81,195.53 L182.03,200.30 L182.26,204.97 L182.48,209.53 L182.70,213.95 L182.93,218.22 L183.15,222.31 L183.37,226.21 L183.60,229.90 L183.82,233.35 L184.04,236.57 L184.27,239.52 L184.49,242.20 L184.72,244.60 L184.94,246.70 L185.16,248.49 L185.39,249.97 L185.61,251.12 L185.83,251.95 L186.06,252.45 L186.28,252.62 L186.50,252.45 L186.73,251.95 L186.95,251.12 L187.17,249.97 L187.40,248.49 L187.62,246.70 L187.84,244.60 L188.07,242.20 L188.29,239.52 L188.52,236.57 L188.74,233.35 L188.96,229.90 L189.19,226.21 L189.41,222.31 L189.63,218.22 L189.86,213.95 L190.08,209.53 L190.30,204.97 L190.53,200.30 L190.75,195.53 L190.97,190.69 L191.20,185.81 L191.42,180.90 L191.64,175.98 L191.87,171.08 L192.09,166.23 L192.31,161.43 L192.54,156.72 L192.76,152.12 L192.99,147.64 L193.21,143.30 L193.43,139.14 L193.66,135.15 L193.88,131.37 L194.10,127.81 L194.33,124.49 L194.55,121.41 L194.77,118.59 L195.00,116.05 L195.22,113.80 L195.44,111.85 L195.67,110.19 L195.89,108.85 L196.11,107.83 L196.34,107.12 L196.56,106.74 L196.78,106.68 L197.01,106.95 L197.23,107.54 L197.46,108.45 L197.68,109.67 L197.90,111.20 L198.13,113.04 L198.35,115.16 L198.57,117.57 L198.80,120.24 L199.02,123.18 L199.24,126.36 L199.47,129.77 L199.69,133.40 L199.91,137.22 L200.14,141.23 L200.36,145.39 L200.58,149.71 L200.81,154.15 L201.03,158.69 L201.25,163.32 L201.48,168.02 L201.70,172.77 L201.93,177.53 L202.15,182.31 L202.37,187.06 L202.60,191.78 L202.82,196.44 L203.04,201.03 L203.27,205.52 L203.49,209.90 L203.71,214.14 L203.94,218.23 L204.16,222.16 L204.38,225.91 L204.61,229.45 L204.83,232.79 L205.05,235.90 L205.28,238.77 L205.50,241.40 L205.72,243.76 L205.95,245.86 L206.17,247.69 L206.40,249.23 L206.62,250.49 L206.84,251.46 L207.07,252.14 L207.29,252.52 L207.51,252.61 L207.74,252.41 L207.96,251.92 L208.18,251.14 L208.41,250.08 L208.63,248.74 L208.85,247.13 L209.08,245.27 L209.30,243.15 L209.52,240.78 L209.75,238.19 L209.97,235.38 L210.19,232.36 L210.42,229.14 L210.64,225.75 L210.87,222.19 L211.09,218.48 L211.31,214.64 L211.54,210.68 L211.76,206.62 L211.98,202.47 L212.21,198.26 L212.43,194.00 L212.65,189.70 L212.88,185.39 L213.10,181.07 L213.32,176.78 L213.55,172.52 L213.77,168.31 L213.99,164.17 L214.22,160.11 L214.44,156.15 L214.66,152.30 L214.89,148.58 L215.11,145.00 L215.34,141.57 L215.56,138.31 L215.78,135.22 L216.01,132.32 L216.23,129.62 L216.45,127.12 L216.68,124.84 L216.90,122.78 L217.12,120.95 L217.35,119.35 L217.57,117.98 L217.79,116.86 L218.02,115.98 L218.24,115.35 L218.46,114.96 L218.69,114.82 L218.91,114.93 L219.13,115.27 L219.36,115.86 L219.58,116.68 L219.81,117.74 L220.03,119.02 L220.25,120.52 L220.48,122.23 L220.70,124.15 L220.92,126.27 L221.15,128.58 L221.37,131.07 L221.59,133.73 L221.82,136.55 L222.04,139.52 L222.26,142.63 L222.49,145.86 L222.71,149.21 L222.93,152.66 L223.16,156.21 L223.38,159.83 L223.60,163.52 L223.83,167.26 L224.05,171.05 L224.28,174.86 L224.50,178.69 L224.72,182.53 L224.95,186.36 L225.17,190.16 L225.39,193.94 L225.62,197.67 L225.84,201.35 L226.06,204.97 L226.29,208.51 L226.51,211.96 L226.73,215.32 L226.96,218.58 L227.18,221.72 L227.40,224.74 L227.63,227.64 L227.85,230.40 L228.07,233.02 L228.30,235.49 L228.52,237.81 L228.75,239.97 L228.97,241.97 L229.19,243.80 L229.42,245.46 L229.64,246.95 L229.86,248.27 L230.09,249.42 L230.31,250.39 L230.53,251.18 L230.76,251.80 L230.98,252.25 L231.20,252.52 L231.43,252.62 L231.65,252.55 L231.87,252.32 L232.10,251.92 L232.32,251.37 L232.54,250.66 L232.77,249.80 L232.99,248.80 L233.22,247.66 L233.44,246.38 L233.66,244.97 L233.89,243.45 L234.11,241.80 L234.33,240.05 L234.56,238.19 L234.78,236.24 L235.00,234.20 L235.23,232.08 L235.45,229.88 L235.67,227.62 L235.90,225.30 L236.12,222.93 L236.34,220.51 L236.57,218.05 L236.79,215.57 L237.01,213.06 L237.24,210.54 L237.46,208.01 L237.69,205.47 L237.91,202.94 L238.13,200.43 L238.36,197.93 L238.58,195.46 L238.80,193.02 L239.03,190.61 L239.25,188.25 L239.47,185.93 L239.70,183.67 L239.92,181.46 L240.14,179.32 L240.37,177.24 L240.59,175.23 L240.81,173.30 L241.04,171.44 L241.26,169.67 L241.48,167.98 L241.71,166.37 L241.93,164.86 L242.16,163.43 L242.38,162.10 L242.60,160.87 L242.83,159.72 L243.05,158.68 L243.27,157.73 L243.50,156.88 L243.72,156.13 L243.94,155.48 L244.17,154.92 L244.39,154.46 L244.61,154.10 L244.84,153.84 L245.06,153.67 L245.28,153.59 L245.51,153.60 L245.73,153.70 L245.95,153.90 L246.18,154.17 L246.40,154.54 L246.62,154.98 L246.85,155.51 L247.07,156.11 L247.30,156.78 L247.52,157.53 L247.74,158.35 L247.97,159.23 L248.19,160.17 L248.41,161.18 L248.64,162.24 L248.86,163.36 L249.08,164.53 L249.31,165.75 L249.53,167.01 L249.75,168.32 L249.98,169.66 L250.20,171.04 L250.42,172.45 L250.65,173.90 L250.87,175.36 L251.09,176.86 L251.32,178.37 L251.54,179.91 L251.77,181.46 L251.99,183.02 L252.21,184.59 L252.44,186.17 L252.66,187.76 L252.88,189.35 L253.11,190.94 L253.33,192.53 L253.55,194.11 L253.78,195.69 L254.00,197.26 L254.22,198.82 L254.45,200.37 L254.67,201.91 L254.89,203.43 L255.12,204.94 L255.34,206.42 L255.56,207.89 L255.79,209.34 L256.01,210.77 L256.24,212.17 L256.46,213.56 L256.68,214.91 L256.91,216.25 L257.13,217.55 L257.35,218.83 L257.58,220.08 L257.80,221.31 L258.02,222.51 L258.25,223.67 L258.47,224.81 L258.69,225.92 L258.92,227.01 L259.14,228.06 L259.36,229.08 L259.59,230.08 L259.81,231.04 L260.03,231.98 L260.26,232.88 L260.48,233.76 L260.71,234.61 L260.93,235.44 L261.15,236.23 L261.38,237.00 L261.60,237.74 L261.82,238.45 L262.05,239.14 L262.27,239.80 L262.49,240.44 L262.72,241.05 L262.94,241.64 L263.16,242.20 L263.39,242.74 L263.61,243.26 L263.83,243.76 L264.06,244.24 L264.28,244.69 L264.50,245.13 L264.73,245.54 L264.95,245.94 L265.18,246.32 L265.40,246.68 L265.62,247.02 L265.85,247.35 L266.07,247.66 L266.29,247.95 L266.52,248.23 L266.74,248.50 L266.96,248.75 L267.19,248.99 L267.41,249.22 L267.63,249.43 L267.86,249.64 L268.08,249.83 L268.30,250.01 L268.53,250.18 L268.75,250.34 L268.98,250.49 L269.20,250.64 L269.42,250.77 L269.65,250.90 L269.87,251.02 L270.09,251.13 L270.32,251.23 L270.54,251.33 L270.76,251.43 L270.99,251.51 L271.21,251.59 L271.43,251.67 L271.66,251.74 L271.88,251.80 L272.10,251.87 L272.33,251.92 L272.55,251.98 L272.77,252.03 L273.00,252.07 L273.22,252.12 L273.44,252.16 L273.67,252.19 L273.89,252.23 L274.12,252.26 L274.34,252.29 L274.56,252.32 L274.79,252.34 L275.01,252.37 L275.23,252.39 L275.46,252.41 L275.68,252.43 L275.90,252.44 L276.13,252.46 L276.35,252.47 L276.57,252.49 L276.80,252.50 L277.02,252.51 L277.24,252.52 L277.47,252.53 L277.69,252.54 L277.91,252.54 L278.14,252.55 L278.36,252.56 L278.59,252.56 L278.81,252.57 L279.03,252.57 L279.26,252.58 L279.48,252.58 L279.70,252.59 L279.93,252.59 L280.15,252.59 L280.37,252.60 L280.60,252.60 L280.82,252.60 L281.04,252.60 L281.27,252.60 L281.49,252.61 L281.71,252.61 L281.94,252.61 L282.16,252.61 L282.38,252.61 L282.61,252.61 L282.83,252.61 L283.06,252.61 L283.28,252.61 L283.50,252.61 L283.73,252.62 L283.95,252.62 L284.17,252.62 L284.40,252.62 L284.62,252.62 L284.84,252.62 L285.07,252.62 L285.29,252.62 L285.51,252.62 L285.74,252.62 L285.96,252.62 L286.18,252.62 L286.41,252.62 L286.63,252.62 L286.86,252.62 L287.08,252.62 L287.30,252.62 L287.53,252.62 L287.75,252.62 L287.97,252.62 L288.20,252.62 L288.42,252.62 L288.64,252.62 L288.87,252.62 L289.09,252.62 L289.31,252.62 L289.54,252.62 L289.76,252.62 L289.98,252.62 L290.21,252.62 L290.43,252.62 L290.65,252.62 L290.88,252.62 L291.10,252.62 L291.32,252.62 L291.55,252.62 L291.77,252.62 L292.00,252.62 L292.22,252.62 L292.44,252.62 L292.67,252.62 L292.89,252.62 L293.11,252.62 L293.34,252.62 L293.56,252.62 L293.78,252.62 L294.01,252.62 L294.23,252.62 L294.45,252.62 L294.68,252.62 L294.90,252.62 L295.12,252.62 L295.35,252.62 L295.57,252.62 L295.80,252.62 L296.02,252.62 L296.24,252.62 L296.47,252.62 L296.69,252.62 L296.91,252.62 L297.14,252.62 L297.36,252.62 L297.58,252.62 L297.81,252.62 L298.03,252.62 L298.25,252.62 L298.48,252.62 L298.70,252.62 L298.92,252.62 L299.15,252.62 L299.37,252.62 L299.59,252.62 L299.82,252.62 L300.04,252.62 L300.26,252.62 L300.49,252.62 L300.71,252.62 L300.94,252.62 L301.16,252.62 L301.38,252.62 L301.61,252.62 L301.83,252.62 L302.05,252.62 L302.28,252.62 L302.50,252.62 L302.72,252.62 L302.95,252.62 L303.17,252.62 L303.39,252.62 L303.62,252.62 L303.84,252.62 L304.06,252.62 L304.29,252.62 L304.51,252.62 L304.74,252.62 L304.96,252.62 L305.18,252.62 L305.41,252.62 L305.63,252.62 L305.85,252.62 L306.08,252.62 L306.30,252.62 L306.52,252.62 L306.75,252.62 L306.97,252.62 L307.19,252.62 L307.42,252.62 L307.64,252.62 L307.86,252.62 L308.09,252.62 L308.31,252.62 L308.53,252.62 L308.76,252.62 L308.98,252.62 L309.20,252.62 L309.43,252.62 L309.65,252.62 L309.88,252.62 L310.10,252.62 L310.32,252.62 L310.55,252.62 L310.77,252.62 L310.99,252.62 L311.22,252.62 L311.44,252.62 L311.66,252.62 L311.89,252.62 L312.11,252.62 L312.33,252.62 L312.56,252.62 L312.78,252.62 L313.00,252.62 L313.23,252.62 L313.45,252.62 L313.68,252.62 L313.90,252.62 L314.12,252.62 L314.35,252.62 L314.57,252.62 L314.79,252.62 L315.02,252.62 L315.24,252.62 L315.46,252.62 L315.69,252.62 L315.91,252.62 L316.13,252.62 L316.36,252.62 L316.58,252.62 L316.80,252.62 L317.03,252.62 L317.25,252.62 L317.47,252.62 L317.70,252.62 L317.92,252.62 L318.14,252.62 L318.37,252.62 L318.59,252.62 L318.82,252.62 L319.04,252.62 L319.26,252.62 L319.49,252.62 L319.71,252.62 L319.93,252.62 L320.16,252.62 L320.38,252.62 L320.60,252.62 L320.83,252.62 L321.05,252.62 L321.27,252.62 L321.50,252.62 L321.72,252.62 L321.94,252.62 L322.17,252.62 L322.39,252.62 L322.62,252.62 L322.84,252.62 L323.06,252.62 L323.29,252.62 L323.51,252.62 L323.73,252.62 L323.96,252.62 L324.18,252.62 L324.40,252.62 L324.63,252.62 L324.85,252.62 L325.07,252.62 L325.30,252.62 L325.52,252.62 L325.74,252.62 L325.97,252.62 L326.19,252.62 L326.41,252.62 L326.64,252.62 L326.86,252.62 L327.08,252.62 L327.31,252.62 L327.53,252.62 L327.76,252.62 L327.98,252.62 L328.20,252.62 L328.43,252.62 L328.65,252.62 L328.87,252.62 L329.10,252.62 L329.32,252.62 L329.54,252.62 L329.77,252.62 L329.99,252.62 L330.21,252.62 L330.44,252.62 L330.66,252.62 L330.88,252.62 L331.11,252.62 L331.33,252.62 L331.56,252.62 L331.78,252.62 L332.00,252.62 L332.23,252.62 L332.45,252.62 L332.67,252.62 L332.90,252.62 L333.12,252.62 L333.34,252.62 L333.57,252.62 L333.79,252.62 L334.01,252.62 L334.24,252.62 L334.46,252.62 L334.68,252.62 L334.91,252.62 L335.13,252.62 L335.35,252.62 L335.58,252.62 L335.80,252.62 L336.02,252.62 L336.25,252.62 L336.47,252.62 L336.70,252.62 L336.92,252.62 L337.14,252.62 L337.37,252.62 L337.59,252.62 L337.81,252.62 L338.04,252.62 L338.26,252.62 L338.48,252.62 L338.71,252.62 L338.93,252.62 L339.15,252.62 L339.38,252.62 L339.60,252.62 L339.82,252.62 L340.05,252.62 L340.27,252.62 L340.50,252.62 L340.72,252.62 L340.94,252.62 L341.17,252.62 L341.39,252.62 L341.61,252.62 L341.84,252.62 L342.06,252.62 L342.28,252.62 L342.51,252.62 L342.73,252.62 L342.95,252.62 L343.18,252.62 L343.40,252.62 L343.62,252.62 L343.85,252.62 L344.07,252.62 L344.29,252.62 L344.52,252.62 L344.74,252.62 L344.97,252.62 L345.19,252.62 L345.41,252.62 L345.64,252.62 L345.86,252.62 L346.08,252.62 L346.31,252.62 L346.53,252.62 L346.75,252.62 L346.98,252.62 L347.20,252.62 L347.42,252.62 L347.65,252.62 L347.87,252.62 L348.09,252.62 L348.32,252.62 L348.54,252.62 L348.76,252.62 L348.99,252.62 L349.21,252.62 L349.44,252.62 L349.66,252.62 L349.88,252.62 L350.11,252.62 L350.33,252.62 L350.55,252.62 L350.78,252.62 L351.00,252.62 L351.22,252.62 L351.45,252.62 L351.67,252.62 L351.89,252.62 L352.12,252.62 L352.34,252.62 L352.56,252.62 L352.79,252.62 L353.01,252.62 L353.23,252.62 L353.46,252.62 L353.68,252.62 L353.90,252.62 L354.13,252.62 L354.35,252.62 L354.58,252.62 L354.80,252.62 L355.02,252.62 L355.25,252.62 L355.47,252.62 L355.69,252.62 L355.92,252.62 L356.14,252.62 L356.36,252.62 L356.59,252.62 L356.81,252.62 L357.03,252.62 L357.26,252.62 L357.48,252.62 L357.70,252.62 L357.93,252.62 L358.15,252.62 L358.38,252.62 L358.60,252.62 L358.82,252.62 L359.05,252.62 L359.27,252.62 L359.49,252.62 L359.72,252.62 L359.94,252.62 L360.16,252.62 L360.39,252.62 L360.61,252.62 L360.83,252.62 L361.06,252.62 L361.28,252.62 L361.50,252.62 L361.73,252.62 L361.95,252.62 L362.17,252.62 L362.40,252.62 L362.62,252.62 L362.85,252.62 L363.07,252.62 L363.29,252.62 L363.52,252.62 L363.74,252.62 L363.96,252.62 L364.19,252.62 L364.41,252.62 L364.63,252.62 L364.86,252.62 L365.08,252.62" stroke="#00ff00" stroke-width="1.75" fill="none" stroke-linejoin="round" stroke-linecap="square"/>
<path d="M7.48,252.62 L7.70,252.62 L7.93,252.62 L8.15,252.62 L8.37,252.62 L8.60,252.62 L8.82,252.62 L9.04,252.62 L9.27,252.62 L9.49,252.62 L9.72,252.62 L9.94,252.62 L10.16,252.62 L10.39,252.62 L10.61,252.62 L10.83,252.62 L11.06,252.62 L11.28,252.62 L11.50,252.62 L11.73,252.62 L11.95,252.62 L12.17,252.62 L12.40,252.62 L12.62,252.62 L12.84,252.62 L13.07,252.62 L13.29,252.62 L13.51,252.62 L13.74,252.62 L13.96,252.62 L14.19,252.62 L14.41,252.62 L14.63,252.62 L14.86,252.62 L15.08,252.62 L15.30,252.62 L15.53,252.62 L15.75,252.62 L15.97,252.62 L16.20,252.62 L16.42,252.62 L16.64,252.62 L16.87,252.62 L17.09,252.62 L17.31,252.62 L17.54,252.62 L17.76,252.62 L17.98,252.62 L18.21,252.62 L18.43,252.62 L18.66,252.62 L18.88,252.62 L19.10,252.62 L19.33,252.62 L19.55,252.62 L19.77,252.62 L20.00,252.62 L20.22,252.62 L20.44,252.62 L20.67,252.62 L20.89,252.62 L21.11,252.62 L21.34,252.62 L21.56,252.62 L21.78,252.62 L22.01,252.62 L22.23,252.62 L22.45,252.62 L22.68,252.62 L22.90,252.62 L23.12,252.62 L23.35,252.62 L23.57,252.62 L23.80,252.62 L24.02,252.62 L24.24,252.62 L24.47,252.62 L24.69,252.62 L24.91,252.62 L25.14,252.62 L25.36,252.62 L25.58,252.62 L25.81,252.62 L26.03,252.62 L26.25,252.62 L26.48,252.62 L26.70,252.62 L26.92,252.62 L27.15,252.62 L27.37,252.62 L27.59,252.62 L27.82,252.62 L28.04,252.62 L28.27,252.62 L28.49,252.62 L28.71,252.62 L28.94,252.62 L29.16,252.62 L29.38,252.62 L29.61,252.62 L29.83,252.62 L30.05,252.62 L30.28,252.62 L30.50,252.62 L30.72,252.62 L30.95,252.62 L31.17,252.62 L31.39,252.62 L31.62,252.62 L31.84,252.62 L32.06,252.62 L32.29,252.62 L32.51,252.62 L32.74,252.62 L32.96,252.62 L33.18,252.62 L33.41,252.62 L33.63,252.62 L33.85,252.62 L34.08,252.62 L34.30,252.62 L34.52,252.62 L34.75,252.62 L34.97,252.62 L35.19,252.62 L35.42,252.62 L35.64,252.62 L35.86,252.62 L36.09,252.62 L36.31,252.62 L36.53,252.62 L36.76,252.62 L36.98,252.62 L37.21,252.62 L37.43,252.62 L37.65,252.62 L37.88,252.62 L38.10,252.62 L38.32,252.62 L38.55,252.62 L38.77,252.62 L38.99,252.62 L39.22,252.62 L39.44,252.62 L39.66,252.62 L39.89,252.62 L40.11,252.62 L40.33,252.62 L40.56,252.62 L40.78,252.62 L41.00,252.62 L41.23,252.62 L41.45,252.62 L41.68,252.62 L41.90,252.62 L42.12,252.62 L42.35,252.62 L42.57,252.62 L42.79,252.62 L43.02,252.62 L43.24,252.62 L43.46,252.62 L43.69,252.62 L43.91,252.62 L44.13,252.62 L44.36,252.62 L44.58,252.62 L44.80,252.62 L45.03,252.62 L45.25,252.62 L45.48,252.62 L45.70,252.62 L45.92,252.62 L46.15,252.62 L46.37,252.62 L46.59,252.62 L46.82,252.62 L47.04,252.62 L47.26,252.62 L47.49,252.62 L47.71,252.62 L47.93,252.62 L48.16,252.62 L48.38,252.62 L48.60,252.62 L48.83,252.62 L49.05,252.62 L49.27,252.62 L49.50,252.62 L49.72,252.62 L49.95,252.62 L50.17,252.62 L50.39,252.62 L50.62,252.62 L50.84,252.62 L51.06,252.62 L51.29,252.62 L51.51,252.62 L51.73,252.62 L51.96,252.62 L52.18,252.62 L52.40,252.62 L52.63,252.62 L52.85,252.62 L53.07,252.62 L53.30,252.62 L53.52,252.62 L53.74,252.62 L53.97,252.62 L54.19,252.62 L54.42,252.62 L54.64,252.62 L54.86,252.62 L55.09,252.62 L55.31,252.62 L55.53,252.62 L55.76,252.62 L55.98,252.62 L56.20,252.62 L56.43,252.62 L56.65,252.62 L56.87,252.62 L57.10,252.62 L57.32,252.62 L57.54,252.62 L57.77,252.62 L57.99,252.62 L58.21,252.62 L58.44,252.62 L58.66,252.62 L58.89,252.62 L59.11,252.62 L59.33,252.62 L59.56,252.62 L59.78,252.62 L60.00,252.62 L60.23,252.62 L60.45,252.62 L60.67,252.62 L60.90,252.62 L61.12,252.62 L61.34,252.62 L61.57,252.62 L61.79,252.62 L62.01,252.62 L62.24,252.62 L62.46,252.62 L62.68,252.62 L62.91,252.62 L63.13,252.62 L63.36,252.62 L63.58,252.62 L63.80,252.62 L64.03,252.62 L64.25,252.62 L64.47,252.62 L64.70,252.62 L64.92,252.62 L65.14,252.62 L65.37,252.62 L65.59,252.62 L65.81,252.62 L66.04,252.62 L66.26,252.62 L66.48,252.62 L66.71,252.62 L66.93,252.62 L67.15,252.62 L67.38,252.62 L67.60,252.62 L67.83,252.62 L68.05,252.62 L68.27,252.62 L68.50,252.62 L68.72,252.62 L68.94,252.62 L69.17,252.62 L69.39,252.62 L69.61,252.62 L69.84,252.62 L70.06,252.62 L70.28,252.62 L70.51,252.62 L70.73,252.62 L70.95,252.62 L71.18,252.62 L71.40,252.62 L71.62,252.62 L71.85,252.62 L72.07,252.62 L72.30,252.62 L72.52,252.62 L72.74,252.62 L72.97,252.62 L73.19,252.62 L73.41,252.62 L73.64,252.62 L73.86,252.62 L74.08,252.62 L74.31,252.62 L74.53,252.62 L74.75,252.62 L74.98,252.62 L75.20,252.62 L75.42,252.62 L75.65,252.62 L75.87,252.62 L76.09,252.62 L76.32,252.62 L76.54,252.62 L76.77,252.62 L76.99,252.62 L77.21,252.62 L77.44,252.62 L77.66,252.62 L77.88,252.62 L78.11,252.62 L78.33,252.62 L78.55,252.62 L78.78,252.62 L79.00,252.62 L79.22,252.62 L79.45,252.62 L79.67,252.62 L79.89,252.62 L80.12,252.62 L80.34,252.62 L80.56,252.62 L80.79,252.62 L81.01,252.62 L81.24,252.62 L81.46,252.62 L81.68,252.62 L81.91,252.62 L82.13,252.62 L82.35,252.62 L82.58,252.62 L82.80,252.62 L83.02,252.62 L83.25,252.62 L83.47,252.62 L83.69,252.62 L83.92,252.62 L84.14,252.62 L84.36,252.62 L84.59,252.62 L84.81,252.62 L85.03,252.62 L85.26,252.62 L85.48,252.62 L85.71,252.62 L85.93,252.62 L86.15,252.62 L86.38,252.62 L86.60,252.62 L86.82,252.62 L87.05,252.62 L87.27,252.62 L87.49,252.62 L87.72,252.62 L87.94,252.62 L88.16,252.62 L88.39,252.62 L88.61,252.62 L88.83,252.62 L89.06,252.62 L89.28,252.62 L89.50,252.62 L89.73,252.62 L89.95,252.62 L90.18,252.62 L90.40,252.62 L90.62,252.62 L90.85,252.62 L91.07,252.62 L91.29,252.62 L91.52,252.62 L91.74,252.62 L91.96,252.62 L92.19,252.62 L92.41,252.62 L92.63,252.62 L92.86,252.62 L93.08,252.62 L93.30,252.62 L93.53,252.62 L93.75,252.62 L93.97,252.62 L94.20,252.62 L94.42,252.62 L94.65,252.62 L94.87,252.62 L95.09,252.62 L95.32,252.62 L95.54,252.62 L95.76,252.62 L95.99,252.62 L96.21,252.62 L96.43,252.62 L96.66,252.62 L96.88,252.62 L97.10,252.62 L97.33,252.62 L97.55,252.62 L97.77,252.62 L98.00,252.62 L98.22,252.62 L98.44,252.62 L98.67,252.62 L98.89,252.62 L99.12,252.62 L99.34,252.62 L99.56,252.62 L99.79,252.62 L100.01,252.62 L100.23,252.62 L100.46,252.62 L100.68,252.62 L100.90,252.62 L101.13,252.62 L101.35,252.62 L101.57,252.62 L101.80,252.62 L102.02,252.62 L102.24,252.62 L102.47,252.62 L102.69,252.62 L102.91,252.62 L103.14,252.62 L103.36,252.62 L103.59,252.62 L103.81,252.62 L104.03,252.62 L104.26,252.62 L104.48,252.62 L104.70,252.62 L104.93,252.62 L105.15,252.62 L105.37,252.62 L105.60,252.62 L105.82,252.62 L106.04,252.62 L106.27,252.62 L106.49,252.62 L106.71,252.62 L106.94,252.62 L107.16,252.62 L107.38,252.62 L107.61,252.62 L107.83,252.62 L108.06,252.62 L108.28,252.62 L108.50,252.62 L108.73,252.62 L108.95,252.62 L109.17,252.62 L109.40,252.62 L109.62,252.62 L109.84,252.62 L110.07,252.62 L110.29,252.62 L110.51,252.62 L110.74,252.62 L110.96,252.62 L111.18,252.62 L111.41,252.62 L111.63,252.62 L111.85,252.62 L112.08,252.62 L112.30,252.62 L112.53,252.62 L112.75,252.62 L112.97,252.62 L113.20,252.62 L113.42,252.62 L113.64,252.62 L113.87,252.62 L114.09,252.62 L114.31,252.62 L114.54,252.62 L114.76,252.62 L114.98,252.62 L115.21,252.62 L115.43,252.62 L115.65,252.62 L115.88,252.62 L116.10,252.62 L116.32,252.62 L116.55,252.62 L116.77,252.62 L117.00,252.62 L117.22,252.62 L117.44,252.62 L117.67,252.62 L117.89,252.61 L118.11,252.61 L118.34,252.61 L118.56,252.61 L118.78,252.61 L119.01,252.61 L119.23,252.60 L119.45,252.60 L119.68,252.59 L119.90,252.59 L120.12,252.58 L120.35,252.58 L120.57,252.57 L120.79,252.56 L121.02,252.55 L121.24,252.54 L121.47,252.52 L121.69,252.50 L121.91,252.49 L122.14,252.46 L122.36,252.44 L122.58,252.41 L122.81,252.37 L123.03,252.33 L123.25,252.29 L123.48,252.24 L123.70,252.18 L123.92,252.12 L124.15,252.04 L124.37,251.96 L124.59,251.87 L124.82,251.77 L125.04,251.65 L125.26,251.52 L125.49,251.38 L125.71,251.22 L125.94,251.04 L126.16,250.84 L126.38,250.62 L126.61,250.38 L126.83,250.12 L127.05,249.83 L127.28,249.51 L127.50,249.16 L127.72,248.78 L127.95,248.36 L128.17,247.91 L128.39,247.41 L128.62,246.88 L128.84,246.30 L129.06,245.67 L129.29,245.00 L129.51,244.27 L129.73,243.49 L129.96,242.66 L130.18,241.76 L130.41,240.80 L130.63,239.78 L130.85,238.70 L131.08,237.55 L131.30,236.32 L131.52,235.03 L131.75,233.66 L131.97,232.22 L132.19,230.70 L132.42,229.10 L132.64,227.43 L132.86,225.68 L133.09,223.85 L133.31,221.95 L133.53,219.96 L133.76,217.91 L133.98,215.77 L134.20,213.57 L134.43,211.29 L134.65,208.94 L134.88,206.54 L135.10,204.07 L135.32,201.54 L135.55,198.96 L135.77,196.34 L135.99,193.67 L136.22,190.97 L136.44,188.24 L136.66,185.48 L136.89,182.72 L137.11,179.95 L137.33,177.18 L137.56,174.42 L137.78,171.69 L138.00,168.98 L138.23,166.32 L138.45,163.70 L138.67,161.15 L138.90,158.67 L139.12,156.28 L139.34,153.98 L139.57,151.78 L139.79,149.70 L140.02,147.75 L140.24,145.93 L140.46,144.27 L140.69,142.76 L140.91,141.42 L141.13,140.26 L141.36,139.29 L141.58,138.52 L141.80,137.94 L142.03,137.59 L142.25,137.44 L142.47,137.53 L142.70,137.84 L142.92,138.38 L143.14,139.16 L143.37,140.18 L143.59,141.43 L143.81,142.92 L144.04,144.65 L144.26,146.60 L144.49,148.79 L144.71,151.20 L144.93,153.82 L145.16,156.65 L145.38,159.68 L145.60,162.89 L145.83,166.28 L146.05,169.83 L146.27,173.53 L146.50,177.35 L146.72,181.29 L146.94,185.32 L147.17,189.42 L147.39,193.59 L147.61,197.78 L147.84,201.98 L148.06,206.18 L148.28,210.33 L148.51,214.43 L148.73,218.44 L148.96,222.35 L149.18,226.12 L149.40,229.74 L149.63,233.17 L149.85,236.40 L150.07,239.40 L150.30,242.15 L150.52,244.62 L150.74,246.79 L150.97,248.65 L151.19,250.17 L151.41,251.34 L151.64,252.14 L151.86,252.56 L152.08,252.58 L152.31,252.19 L152.53,251.39 L152.75,250.16 L152.98,248.51 L153.20,246.43 L153.43,243.92 L153.65,240.98 L153.87,237.63 L154.10,233.86 L154.32,229.69 L154.54,225.13 L154.77,220.20 L154.99,214.91 L155.21,209.29 L155.44,203.36 L155.66,197.15 L155.88,190.67 L156.11,183.97 L156.33,177.07 L156.55,170.01 L156.78,162.82 L157.00,155.54 L157.22,148.21 L157.45,140.87 L157.67,133.56 L157.90,126.31 L158.12,119.17 L158.34,112.18 L158.57,105.39 L158.79,98.82 L159.01,92.53 L159.24,86.56 L159.46,80.93 L159.68,75.69 L159.91,70.87 L160.13,66.50 L160.35,62.62 L160.58,59.25 L160.80,56.43 L161.02,54.16 L161.25,52.47 L161.47,51.38 L161.69,50.89 L161.92,51.02 L162.14,51.78 L162.37,53.15 L162.59,55.14 L162.81,57.75 L163.04,60.96 L163.26,64.75 L163.48,69.10 L163.71,74.00 L163.93,79.41 L164.15,85.30 L164.38,91.65 L164.60,98.40 L164.82,105.52 L165.05,112.96 L165.27,120.69 L165.49,128.63 L165.72,136.76 L165.94,145.00 L166.16,153.31 L166.39,161.63 L166.61,169.90 L166.84,178.07 L167.06,186.07 L167.28,193.85 L167.51,201.36 L167.73,208.53 L167.95,215.33 L168.18,221.69 L168.40,227.56 L168.62,232.91 L168.85,237.69 L169.07,241.86 L169.29,245.39 L169.52,248.24 L169.74,250.40 L169.96,251.84 L170.19,252.55 L170.41,252.51 L170.63,251.72 L170.86,250.18 L171.08,247.90 L171.31,244.89 L171.53,241.16 L171.75,236.75 L171.98,231.67 L172.20,225.96 L172.42,219.65 L172.65,212.80 L172.87,205.45 L173.09,197.65 L173.32,189.45 L173.54,180.92 L173.76,172.12 L173.99,163.10 L174.21,153.95 L174.43,144.72 L174.66,135.48 L174.88,126.31 L175.10,117.28 L175.33,108.45 L175.55,99.89 L175.78,91.67 L176.00,83.85 L176.22,76.49 L176.45,69.66 L176.67,63.40 L176.89,57.77 L177.12,52.82 L177.34,48.57 L177.56,45.08 L177.79,42.36 L178.01,40.44 L178.23,39.34 L178.46,39.07 L178.68,39.63 L178.90,41.03 L179.13,43.25 L179.35,46.27 L179.57,50.09 L179.80,54.65 L180.02,59.94 L180.25,65.92 L180.47,72.53 L180.69,79.72 L180.92,87.44 L181.14,95.64 L181.36,104.23 L181.59,113.16 L181.81,122.36 L182.03,131.75 L182.26,141.25 L182.48,150.80 L182.70,160.31 L182.93,169.71 L183.15,178.92 L183.37,187.87 L183.60,196.48 L183.82,204.69 L184.04,212.43 L184.27,219.64 L184.49,226.26 L184.72,232.23 L184.94,237.50 L185.16,242.04 L185.39,245.81 L185.61,248.77 L185.83,250.90 L186.06,252.19 L186.28,252.62 L186.50,252.19 L186.73,250.90 L186.95,248.77 L187.17,245.81 L187.40,242.04 L187.62,237.50 L187.84,232.23 L188.07,226.26 L188.29,219.64 L188.52,212.43 L188.74,204.69 L188.96,196.48 L189.19,187.87 L189.41,178.92 L189.63,169.71 L189.86,160.31 L190.08,150.80 L190.30,141.25 L190.53,131.75 L190.75,122.36 L190.97,113.16 L191.20,104.23 L191.42,95.64 L191.64,87.44 L191.87,79.72 L192.09,72.53 L192.31,65.92 L192.54,59.94 L192.76,54.65 L192.99,50.09 L193.21,46.27 L193.43,43.25 L193.66,41.03 L193.88,39.63 L194.10,39.07 L194.33,39.34 L194.55,40.44 L194.77,42.36 L195.00,45.08 L195.22,48.57 L195.44,52.82 L195.67,57.77 L195.89,63.40 L196.11,69.66 L196.34,76.49 L196.56,83.85 L196.78,91.67 L197.01,99.89 L197.23,108.45 L197.46,117.28 L197.68,126.31 L197.90,135.48 L198.13,144.72 L198.35,153.95 L198.57,163.10 L198.80,172.12 L199.02,180.92 L199.24,189.45 L199.47,197.65 L199.69,205.45 L199.91,212.80 L200.14,219.65 L200.36,225.96 L200.58,231.67 L200.81,236.75 L201.03,241.16 L201.25,244.89 L201.48,247.90 L201.70,250.18 L201.93,251.72 L202.15,252.51 L202.37,252.55 L202.60,251.84 L202.82,250.40 L203.04,248.24 L203.27,245.39 L203.49,241.86 L203.71,237.69 L203.94,232.91 L204.16,227.56 L204.38,221.69 L204.61,215.33 L204.83,208.53 L205.05,201.36 L205.28,193.85 L205.50,186.07 L205.72,178.07 L205.95,169.90 L206.17,161.63 L206.40,153.31 L206.62,145.00 L206.84,136.76 L207.07,128.63 L207.29,120.69 L207.51,112.96 L207.74,105.52 L207.96,98.40 L208.18,91.65 L208.41,85.30 L208.63,79.41 L208.85,74.00 L209.08,69.10 L209.30,64.75 L209.52,60.96 L209.75,57.75 L209.97,55.14 L210.19,53.15 L210.42,51.78 L210.64,51.02 L210.87,50.89 L211.09,51.38 L211.31,52.47 L211.54,54.16 L211.76,56.43 L211.98,59.25 L212.21,62.62 L212.43,66.50 L212.65,70.87 L212.88,75.69 L213.10,80.93 L213.32,86.56 L213.55,92.53 L213.77,98.82 L213.99,105.39 L214.22,112.18 L214.44,119.17 L214.66,126.31 L214.89,133.56 L215.11,140.87 L215.34,148.21 L215.56,155.54 L215.78,162.82 L216.01,170.01 L216.23,177.07 L216.45,183.97 L216.68,190.67 L216.90,197.15 L217.12,203.36 L217.35,209.29 L217.57,214.91 L217.79,220.20 L218.02,225.13 L218.24,229.69 L218.46,233.86 L218.69,237.63 L218.91,240.98 L219.13,243.92 L219.36,246.43 L219.58,248.51 L219.81,250.16 L220.03,251.39 L220.25,252.19 L220.48,252.58 L220.70,252.56 L220.92,252.14 L221.15,251.34 L221.37,250.17 L221.59,248.65 L221.82,246.79 L222.04,244.62 L222.26,242.15 L222.49,239.40 L222.71,236.40 L222.93,233.17 L223.16,229.74 L223.38,226.12 L223.60,222.35 L223.83,218.44 L224.05,214.43 L224.28,210.33 L224.50,206.18 L224.72,201.98 L224.95,197.78 L225.17,193.59 L225.39,189.42 L225.62,185.32 L225.84,181.29 L226.06,177.35 L226.29,173.53 L226.51,169.83 L226.73,166.28 L226.96,162.89 L227.18,159.68 L227.40,156.65 L227.63,153.82 L227.85,151.20 L228.07,148.79 L228.30,146.60 L228.52,144.65 L228.75,142.92 L228.97,141.43 L229.19,140.18 L229.42,139.16 L229.64,138.38 L229.86,137.84 L230.09,137.53 L230.31,137.44 L230.53,137.59 L230.76,137.94 L230.98,138.52 L231.20,139.29 L231.43,140.26 L231.65,141.42 L231.87,142.76 L232.10,144.27 L232.32,145.93 L232.54,147.75 L232.77,149.70 L232.99,151.78 L233.22,153.98 L233.44,156.28 L233.66,158.67 L233.89,161.15 L234.11,163.70 L234.33,166.32 L234.56,168.98 L234.78,171.69 L235.00,174.42 L235.23,177.18 L235.45,179.95 L235.67,182.72 L235.90,185.48 L236.12,188.24 L236.34,190.97 L236.57,193.67 L236.79,196.34 L237.01,198.96 L237.24,201.54 L237.46,204.07 L237.69,206.54 L237.91,208.94 L238.13,211.29 L238.36,213.57 L238.58,215.77 L238.80,217.91 L239.03,219.96 L239.25,221.95 L239.47,223.85 L239.70,225.68 L239.92,227.43 L240.14,229.10 L240.37,230.70 L240.59,232.22 L240.81,233.66 L241.04,235.03 L241.26,236.32 L241.48,237.55 L241.71,238.70 L241.93,239.78 L242.16,240.80 L242.38,241.76 L242.60,242.66 L242.83,243.49 L243.05,244.27 L243.27,245.00 L243.50,245.67 L243.72,246.30 L243.94,246.88 L244.17,247.41 L244.39,247.91 L244.61,248.36 L244.84,248.78 L245.06,249.16 L245.28,249.51 L245.51,249.83 L245.73,250.12 L245.95,250.38 L246.18,250.62 L246.40,250.84 L246.62,251.04 L246.85,251.22 L247.07,251.38 L247.30,251.52 L247.52,251.65 L247.74,251.77 L247.97,251.87 L248.19,251.96 L248.41,252.04 L248.64,252.12 L248.86,252.18 L249.08,252.24 L249.31,252.29 L249.53,252.33 L249.75,252.37 L249.98,252.41 L250.20,252.44 L250.42,252.46 L250.65,252.49 L250.87,252.50 L251.09,252.52 L251.32,252.54 L251.54,252.55 L251.77,252.56 L251.99,252.57 L252.21,252.58 L252.44,252.58 L252.66,252.59 L252.88,252.59 L253.11,252.60 L253.33,252.60 L253.55,252.61 L253.78,252.61 L254.00,252.61 L254.22,252.61 L254.45,252.61 L254.67,252.61 L254.89,252.62 L255.12,252.62 L255.34,252.62 L255.56,252.62 L255.79,252.62 L256.01,252.62 L256.24,252.62 L256.46,252.62 L256.68,252.62 L256.91,252.62 L257.13,252.62 L257.35,252.62 L257.58,252.62 L257.80,252.62 L258.02,252.62 L258.25,252.62 L258.47,252.62 L258.69,252.62 L258.92,252.62 L259.14,252.62 L259.36,252.62 L259.59,252.62 L259.81,252.62 L260.03,252.62 L260.26,252.62 L260.48,252.62 L260.71,252.62 L260.93,252.62 L261.15,252.62 L261.38,252.62 L261.60,252.62 L261.82,252.62 L262.05,252.62 L262.27,252.62 L262.49,252.62 L262.72,252.62 L262.94,252.62 L263.16,252.62 L263.39,252.62 L263.61,252.62 L263.83,252.62 L264.06,252.62 L264.28,252.62 L264.50,252.62 L264.73,252.62 L264.95,252.62 L265.18,252.62 L265.40,252.62 L265.62,252.62 L265.85,252.62 L266.07,252.62 L266.29,252.62 L266.52,252.62 L266.74,252.62 L266.96,252.62 L267.19,252.62 L267.41,252.62 L267.63,252.62 L267.86,252.62 L268.08,252.62 L268.30,252.62 L268.53,252.62 L268.75,252.62 L268.98,252.62 L269.20,252.62 L269.42,252.62 L269.65,252.62 L269.87,252.62 L270.09,252.62 L270.32,252.62 L270.54,252.62 L270.76,252.62 L270.99,252.62 L271.21,252.62 L271.43,252.62 L271.66,252.62 L271.88,252.62 L272.10,252.62 L272.33,252.62 L272.55,252.62 L272.77,252.62 L273.00,252.62 L273.22,252.62 L273.44,252.62 L273.67,252.62 L273.89,252.62 L274.12,252.62 L274.34,252.62 L274.56,252.62 L274.79,252.62 L275.01,252.62 L275.23,252.62 L275.46,252.62 L275.68,252.62 L275.90,252.62 L276.13,252.62 L276.35,252.62 L276.57,252.62 L276.80,252.62 L277.02,252.62 L277.24,252.62 L277.47,252.62 L277.69,252.62 L277.91,252.62 L278.14,252.62 L278.36,252.62 L278.59,252.62 L278.81,252.62 L279.03,252.62 L279.26,252.62 L279.48,252.62 L279.70,252.62 L279.93,252.62 L280.15,252.62 L280.37,252.62 L280.60,252.62 L280.82,252.62 L281.04,252.62 L281.27,252.62 L281.49,252.62 L281.71,252.62 L281.94,252.62 L282.16,252.62 L282.38,252.62 L282.61,252.62 L282.83,252.62 L283.06,252.62 L283.28,252.62 L283.50,252.62 L283.73,252.62 L283.95,252.62 L284.17,252.62 L284.40,252.62 L284.62,252.62 L284.84,252.62 L285.07,252.62 L285.29,252.62 L285.51,252.62 L285.74,252.62 L285.96,252.62 L286.18,252.62 L286.41,252.62 L286.63,252.62 L286.86,252.62 L287.08,252.62 L287.30,252.62 L287.53,252.62 L287.75,252.62 L287.97,252.62 L288.20,252.62 L288.42,252.62 L288.64,252.62 L288.87,252.62 L289.09,252.62 L289.31,252.62 L289.54,252.62 L289.76,252.62 L289.98,252.62 L290.21,252.62 L290.43,252.62 L290.65,252.62 L290.88,252.62 L291.10,252.62 L291.32,252.62 L291.55,252.62 L291.77,252.62 L292.00,252.62 L292.22,252.62 L292.44,252.62 L292.67,252.62 L292.89,252.62 L293.11,252.62 L293.34,252.62 L293.56,252.62 L293.78,252.62 L294.01,252.62 L294.23,252.62 L294.45,252.62 L294.68,252.62 L294.90,252.62 L295.12,252.62 L295.35,252.62 L295.57,252.62 L295.80,252.62 L296.02,252.62 L296.24,252.62 L296.47,252.62 L296.69,252.62 L296.91,252.62 L297.14,252.62 L297.36,252.62 L297.58,252.62 L297.81,252.62 L298.03,252.62 L298.25,252.62 L298.48,252.62 L298.70,252.62 L298.92,252.62 L299.15,252.62 L299.37,252.62 L299.59,252.62 L299.82,252.62 L300.04,252.62 L300.26,252.62 L300.49,252.62 L300.71,252.62 L300.94,252.62 L301.16,252.62 L301.38,252.62 L301.61,252.62 L301.83,252.62 L302.05,252.62 L302.28,252.62 L302.50,252.62 L302.72,252.62 L302.95,252.62 L303.17,252.62 L303.39,252.62 L303.62,252.62 L303.84,252.62 L304.06,252.62 L304.29,252.62 L304.51,252.62 L304.74,252.62 L304.96,252.62 L305.18,252.62 L305.41,252.62 L305.63,252.62 L305.85,252.62 L306.08,252.62 L306.30,252.62 L306.52,252.62 L306.75,252.62 L306.97,252.62 L307.19,252.62 L307.42,252.62 L307.64,252.62 L307.86,252.62 L308.09,252.62 L308.31,252.62 L308.53,252.62 L308.76,252.62 L308.98,252.62 L309.20,252.62 L309.43,252.62 L309.65,252.62 L309.88,252.62 L310.10,252.62 L310.32,252.62 L310.55,252.62 L310.77,252.62 L310.99,252.62 L311.22,252.62 L311.44,252.62 L311.66,252.62 L311.89,252.62 L312.11,252.62 L312.33,252.62 L312.56,252.62 L312.78,252.62 L313.00,252.62 L313.23,252.62 L313.45,252.62 L313.68,252.62 L313.90,252.62 L314.12,252.62 L314.35,252.62 L314.57,252.62 L314.79,252.62 L315.02,252.62 L315.24,252.62 L315.46,252.62 L315.69,252.62 L315.91,252.62 L316.13,252.62 L316.36,252.62 L316.58,252.62 L316.80,252.62 L317.03,252.62 L317.25,252.62 L317.47,252.62 L317.70,252.62 L317.92,252.62 L318.14,252.62 L318.37,252.62 L318.59,252.62 L318.82,252.62 L319.04,252.62 L319.26,252.62 L319.49,252.62 L319.71,252.62 L319.93,252.62 L320.16,252.62 L320.38,252.62 L320.60,252.62 L320.83,252.62 L321.05,252.62 L321.27,252.62 L321.50,252.62 L321.72,252.62 L321.94,252.62 L322.17,252.62 L322.39,252.62 L322.62,252.62 L322.84,252.62 L323.06,252.62 L323.29,252.62 L323.51,252.62 L323.73,252.62 L323.96,252.62 L324.18,252.62 L324.40,252.62 L324.63,252.62 L324.85,252.62 L325.07,252.62 L325.30,252.62 L325.52,252.62 L325.74,252.62 L325.97,252.62 L326.19,252.62 L326.41,252.62 L326.64,252.62 L326.86,252.62 L327.08,252.62 L327.31,252.62 L327.53,252.62 L327.76,252.62 L327.98,252.62 L328.20,252.62 L328.43,252.62 L328.65,252.62 L328.87,252.62 L329.10,252.62 L329.32,252.62 L329.54,252.62 L329.77,252.62 L329.99,252.62 L330.21,252.62 L330.44,252.62 L330.66,252.62 L330.88,252.62 L331.11,252.62 L331.33,252.62 L331.56,252.62 L331.78,252.62 L332.00,252.62 L332.23,252.62 L332.45,252.62 L332.67,252.62 L332.90,252.62 L333.12,252.62 L333.34,252.62 L333.57,252.62 L333.79,252.62 L334.01,252.62 L334.24,252.62 L334.46,252.62 L334.68,252.62 L334.91,252.62 L335.13,252.62 L335.35,252.62 L335.58,252.62 L335.80,252.62 L336.02,252.62 L336.25,252.62 L336.47,252.62 L336.70,252.62 L336.92,252.62 L337.14,252.62 L337.37,252.62 L337.59,252.62 L337.81,252.62 L338.04,252.62 L338.26,252.62 L338.48,252.62 L338.71,252.62 L338.93,252.62 L339.15,252.62 L339.38,252.62 L339.60,252.62 L339.82,252.62 L340.05,252.62 L340.27,252.62 L340.50,252.62 L340.72,252.62 L340.94,252.62 L341.17,252.62 L341.39,252.62 L341.61,252.62 L341.84,252.62 L342.06,252.62 L342.28,252.62 L342.51,252.62 L342.73,252.62 L342.95,252.62 L343.18,252.62 L343.40,252.62 L343.62,252.62 L343.85,252.62 L344.07,252.62 L344.29,252.62 L344.52,252.62 L344.74,252.62 L344.97,252.62 L345.19,252.62 L345.41,252.62 L345.64,252.62 L345.86,252.62 L346.08,252.62 L346.31,252.62 L346.53,252.62 L346.75,252.62 L346.98,252.62 L347.20,252.62 L347.42,252.62 L347.65,252.62 L347.87,252.62 L348.09,252.62 L348.32,252.62 L348.54,252.62 L348.76,252.62 L348.99,252.62 L349.21,252.62 L349.44,252.62 L349.66,252.62 L349.88,252.62 L350.11,252.62 L350.33,252.62 L350.55,252.62 L350.78,252.62 L351.00,252.62 L351.22,252.62 L351.45,252.62 L351.67,252.62 L351.89,252.62 L352.12,252.62 L352.34,252.62 L352.56,252.62 L352.79,252.62 L353.01,252.62 L353.23,252.62 L353.46,252.62 L353.68,252.62 L353.90,252.62 L354.13,252.62 L354.35,252.62 L354.58,252.62 L354.80,252.62 L355.02,252.62 L355.25,252.62 L355.47,252.62 L355.69,252.62 L355.92,252.62 L356.14,252.62 L356.36,252.62 L356.59,252.62 L356.81,252.62 L357.03,252.62 L357.26,252.62 L357.48,252.62 L357.70,252.62 L357.93,252.62 L358.15,252.62 L358.38,252.62 L358.60,252.62 L358.82,252.62 L359.05,252.62 L359.27,252.62 L359.49,252.62 L359.72,252.62 L359.94,252.62 L360.16,252.62 L360.39,252.62 L360.61,252.62 L360.83,252.62 L361.06,252.62 L361.28,252.62 L361.50,252.62 L361.73,252.62 L361.95,252.62 L362.17,252.62 L362.40,252.62 L362.62,252.62 L362.85,252.62 L363.07,252.62 L363.29,252.62 L363.52,252.62 L363.74,252.62 L363.96,252.62 L364.19,252.62 L364.41,252.62 L364.63,252.62 L364.86,252.62 L365.08,252.62" stroke="#800080" stroke-width="1.75" fill="none" stroke-linejoin="round" stroke-linecap="square"/>
<g stroke="#000" stroke-width="0.8" fill="none">
<path d="M0,252.3 H372.6"/>
<path d="M186.6,252.60000000000002 V26.9"/>
<path d="M7.65,252.3 v-2.4"/>
<path d="M25.53,252.3 v-2.4"/>
<path d="M43.41,252.3 v-4.2"/>
<path d="M61.29,252.3 v-2.4"/>
<path d="M79.17,252.3 v-2.4"/>
<path d="M97.05,252.3 v-2.4"/>
<path d="M114.93,252.3 v-4.2"/>
<path d="M132.81,252.3 v-2.4"/>
<path d="M150.69,252.3 v-2.4"/>
<path d="M168.57,252.3 v-2.4"/>
<path d="M186.45,252.3 v-4.2"/>
<path d="M204.33,252.3 v-2.4"/>
<path d="M222.21,252.3 v-2.4"/>
<path d="M240.09,252.3 v-2.4"/>
<path d="M257.97,252.3 v-4.2"/>
<path d="M275.85,252.3 v-2.4"/>
<path d="M293.73,252.3 v-2.4"/>
<path d="M311.61,252.3 v-2.4"/>
<path d="M329.49,252.3 v-4.2"/>
<path d="M347.37,252.3 v-2.4"/>
<path d="M365.25,252.3 v-2.4"/>
<path d="M186.6,238.73 h2.4"/>
<path d="M186.6,225.00 h2.4"/>
<path d="M186.6,211.28 h2.4"/>
<path d="M186.6,197.30 h4.2"/>
<path d="M186.6,183.83 h2.4"/>
<path d="M186.6,170.10 h2.4"/>
<path d="M186.6,156.38 h2.4"/>
<path d="M186.6,142.50 h4.2"/>
<path d="M186.6,128.93 h2.4"/>
<path d="M186.6,115.20 h2.4"/>
<path d="M186.6,101.47 h2.4"/>
<path d="M186.6,87.95 h4.2"/>
<path d="M186.6,74.03 h2.4"/>
<path d="M186.6,60.30 h2.4"/>
<path d="M186.6,46.58 h2.4"/>
<path d="M186.6,32.60 h4.2"/>
</g>
<path d="M311,40.05 H332.8" stroke="#ff0000" stroke-width="1.9"/>
<path d="M311,60.55 H332.8" stroke="#00ff00" stroke-width="1.9"/>
<path d="M311,80.95 H332.8" stroke="#800080" stroke-width="1.9"/>
<g font-family="Liberation Sans, sans-serif" fill="#000" opacity="0.96">
<text transform="translate(43.61,264.60) rotate(0.03) scale(1.0,1)" font-size="9.8" text-anchor="middle">−4</text>
<text transform="translate(115.13,264.60) rotate(0.03) scale(1.0,1)" font-size="9.8" text-anchor="middle">−2</text>
<text transform="translate(257.67,264.60) rotate(0.03) scale(1.0,1)" font-size="9.8" text-anchor="middle">2</text>
<text transform="translate(329.19,264.60) rotate(0.03) scale(1.0,1)" font-size="9.8" text-anchor="middle">4</text>
<text transform="translate(182.90,201.05) rotate(0.03) scale(0.95,1)" font-size="10.2" text-anchor="end">0.2</text>
<text transform="translate(182.90,146.25) rotate(0.03) scale(0.95,1)" font-size="10.2" text-anchor="end">0.4</text>
<text transform="translate(182.90,91.70) rotate(0.03) scale(0.95,1)" font-size="10.2" text-anchor="end">0.6</text>
<text transform="translate(182.90,36.35) rotate(0.03) scale(0.95,1)" font-size="10.2" text-anchor="end">0.8</text>
<text transform="translate(338.50,44.10) rotate(0.03) scale(1.28,1)" font-size="10" text-anchor="start">λ</text>
<text transform="translate(344.60,44.10) rotate(0.03) scale(1.0,1)" font-size="10" text-anchor="start" letter-spacing="0.35">=0</text>
<text transform="translate(338.50,64.40) rotate(0.03) scale(1.28,1)" font-size="10" text-anchor="start">λ</text>
<text transform="translate(344.60,64.40) rotate(0.03) scale(1.0,1)" font-size="10" text-anchor="start" letter-spacing="0.35">=0.2</text>
<text transform="translate(338.50,85.00) rotate(0.03) scale(1.28,1)" font-size="10" text-anchor="start">λ</text>
<text transform="translate(344.60,85.00) rotate(0.03) scale(1.0,1)" font-size="10" text-anchor="start" letter-spacing="0.35">=0.4</text>
<text transform="translate(381.30,256.70) rotate(0.03) scale(1.0,1)" font-size="14" text-anchor="start">p</text>
<path d="M180.9,7.8 L182.7,14.4 M187.3,7.8 L183.4,13.6 L181.7,17.8" stroke="#000" stroke-width="1.35" fill="none" stroke-linejoin="round"/>
<text transform="translate(186.70,19.60) rotate(0.03) scale(1.0,1)" font-size="10" text-anchor="start">6</text>
<text transform="translate(188.20,8.70) rotate(0.03) scale(1.1,1)" font-size="9.2" text-anchor="start">λ</text>
</g>
</svg>
</body></html>
